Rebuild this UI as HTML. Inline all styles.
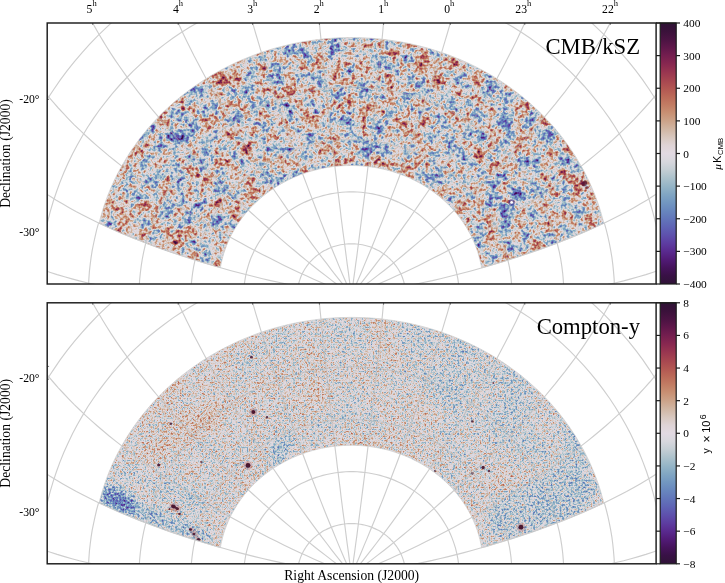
<!DOCTYPE html><html><head><meta charset="utf-8"><style>html,body{margin:0;padding:0;background:#fff;width:725px;height:583px;overflow:hidden}svg{display:block;will-change:transform}text{font-family:"Liberation Serif",serif;fill:#000}.s{font-family:"Liberation Sans",sans-serif}</style></head><body>
<svg width="725" height="583" viewBox="0 0 725 583">
<defs>
<linearGradient id="cb" x1="0" y1="0" x2="0" y2="1"><stop offset="0.0000" stop-color="#2f1436"/><stop offset="0.0312" stop-color="#3a113a"/><stop offset="0.0625" stop-color="#4a1342"/><stop offset="0.0938" stop-color="#5f174a"/><stop offset="0.1250" stop-color="#741e4f"/><stop offset="0.1562" stop-color="#872750"/><stop offset="0.1875" stop-color="#983550"/><stop offset="0.2188" stop-color="#a64550"/><stop offset="0.2500" stop-color="#b25652"/><stop offset="0.2812" stop-color="#bb6958"/><stop offset="0.3125" stop-color="#c27c63"/><stop offset="0.3438" stop-color="#c89073"/><stop offset="0.3750" stop-color="#cca389"/><stop offset="0.4062" stop-color="#d1b6a3"/><stop offset="0.4375" stop-color="#d8c7be"/><stop offset="0.4688" stop-color="#dfd4d6"/><stop offset="0.5000" stop-color="#e2d9e2"/><stop offset="0.5312" stop-color="#d7d7dd"/><stop offset="0.5625" stop-color="#c4ced4"/><stop offset="0.5938" stop-color="#acc2cc"/><stop offset="0.6250" stop-color="#95b5c7"/><stop offset="0.6562" stop-color="#81a6c3"/><stop offset="0.6875" stop-color="#7297c1"/><stop offset="0.7188" stop-color="#6887be"/><stop offset="0.7500" stop-color="#6276ba"/><stop offset="0.7812" stop-color="#5f64b5"/><stop offset="0.8125" stop-color="#5e51ad"/><stop offset="0.8438" stop-color="#5d3da1"/><stop offset="0.8750" stop-color="#592a8f"/><stop offset="0.9062" stop-color="#511b77"/><stop offset="0.9375" stop-color="#45135c"/><stop offset="0.9688" stop-color="#381145"/><stop offset="1.0000" stop-color="#301437"/></linearGradient>
<filter id="fc" x="0" y="0" width="1" height="1" filterUnits="objectBoundingBox" color-interpolation-filters="sRGB">
<feGaussianBlur in="SourceGraphic" stdDeviation="7" result="sg"/>
<feColorMatrix in="sg" type="matrix" values="0 0 0 0 0 0 0 0 0 0 1 0 0 0 0 0 0 0 0 1" result="r3"/>
<feTurbulence type="fractalNoise" baseFrequency="0.27" numOctaves="2" seed="2" result="n1"/>
<feColorMatrix in="n1" type="matrix" values="1 0 0 0 0 0 0 0 0 0 0 0 0 0 0 0 0 0 0 1" result="r1"/>
<feTurbulence type="fractalNoise" baseFrequency="0.07" numOctaves="2" seed="7" result="n2"/>
<feColorMatrix in="n2" type="matrix" values="0 0 0 0 0 1 0 0 0 0 0 0 0 0 0 0 0 0 0 1" result="r2"/>
<feComposite in="r1" in2="r2" operator="arithmetic" k1="0" k2="1" k3="1" k4="0" result="r12"/>
<feComposite in="r12" in2="r3" operator="arithmetic" k1="0" k2="1" k3="1" k4="0"/>
<feColorMatrix type="matrix" values="0.78 0.75 1 0 -0.7670 0.78 0.75 1 0 -0.7670 0.78 0.75 1 0 -0.7670 0 0 0 0 1"/>

<feComponentTransfer><feFuncR type="table" tableValues="0.1874 0.2200 0.2701 0.3195 0.3506 0.3646 0.3699 0.3739 0.3841 0.4073 0.4480 0.5071 0.5830 0.6731 0.7675 0.8441 0.8857 0.8734 0.8489 0.8214 0.8003 0.7829 0.7626 0.7348 0.6981 0.6521 0.5966 0.5305 0.4538 0.3712 0.2913 0.2258 0.1849"/><feFuncG type="table" tableValues="0.0771 0.0659 0.0755 0.1067 0.1660 0.2401 0.3164 0.3905 0.4614 0.5287 0.5924 0.6526 0.7096 0.7627 0.8098 0.8441 0.8500 0.8310 0.7799 0.7139 0.6410 0.5646 0.4872 0.4112 0.3383 0.2697 0.2072 0.1544 0.1162 0.0917 0.0749 0.0674 0.0794"/><feFuncB type="table" tableValues="0.2162 0.2709 0.3606 0.4671 0.5615 0.6298 0.6770 0.7094 0.7309 0.7452 0.7557 0.7659 0.7793 0.8003 0.8325 0.8672 0.8857 0.8375 0.7466 0.6397 0.5373 0.4509 0.3868 0.3450 0.3221 0.3129 0.3126 0.3148 0.3097 0.2895 0.2576 0.2273 0.2131"/></feComponentTransfer>
</filter>
<filter id="fy" x="0" y="0" width="1" height="1" filterUnits="objectBoundingBox" color-interpolation-filters="sRGB">
<feGaussianBlur in="SourceGraphic" stdDeviation="4" result="sg"/>
<feColorMatrix in="sg" type="matrix" values="0 0 0 0 0 0 0 0 0 0 1 0 0 0 0 0 0 0 0 1" result="r3"/>
<feTurbulence type="fractalNoise" baseFrequency="0.45" numOctaves="2" seed="5" result="n1"/>
<feColorMatrix in="n1" type="matrix" values="1 0 0 0 0 0 0 0 0 0 0 0 0 0 0 0 0 0 0 1" result="r1"/>
<feTurbulence type="fractalNoise" baseFrequency="0.03" numOctaves="2" seed="9" result="n2"/>
<feColorMatrix in="n2" type="matrix" values="0 0 0 0 0 1 0 0 0 0 0 0 0 0 0 0 0 0 0 1" result="r2"/>
<feComposite in="r1" in2="r2" operator="arithmetic" k1="0" k2="1" k3="1" k4="0" result="r12"/>
<feComposite in="r12" in2="r3" operator="arithmetic" k1="0" k2="1" k3="1" k4="0"/>
<feColorMatrix type="matrix" values="0.63 0.12 1 0 -0.3770 0.63 0.12 1 0 -0.3770 0.63 0.12 1 0 -0.3770 0 0 0 0 1"/>

<feComponentTransfer><feFuncR type="table" tableValues="0.1874 0.2200 0.2701 0.3195 0.3506 0.3646 0.3699 0.3739 0.3841 0.4073 0.4480 0.5071 0.5830 0.6731 0.7675 0.8441 0.8857 0.8734 0.8489 0.8214 0.8003 0.7829 0.7626 0.7348 0.6981 0.6521 0.5966 0.5305 0.4538 0.3712 0.2913 0.2258 0.1849"/><feFuncG type="table" tableValues="0.0771 0.0659 0.0755 0.1067 0.1660 0.2401 0.3164 0.3905 0.4614 0.5287 0.5924 0.6526 0.7096 0.7627 0.8098 0.8441 0.8500 0.8310 0.7799 0.7139 0.6410 0.5646 0.4872 0.4112 0.3383 0.2697 0.2072 0.1544 0.1162 0.0917 0.0749 0.0674 0.0794"/><feFuncB type="table" tableValues="0.2162 0.2709 0.3606 0.4671 0.5615 0.6298 0.6770 0.7094 0.7309 0.7452 0.7557 0.7659 0.7793 0.8003 0.8325 0.8672 0.8857 0.8375 0.7466 0.6397 0.5373 0.4509 0.3868 0.3450 0.3221 0.3129 0.3126 0.3148 0.3097 0.2895 0.2576 0.2273 0.2131"/></feComponentTransfer>
</filter>
<clipPath id="st"><path d="M99.1,223.2 L100.1,219.2 L101.2,215.3 L102.3,211.4 L103.5,207.6 L104.8,203.7 L106.2,199.9 L107.6,196.0 L109.1,192.2 L110.7,188.5 L112.3,184.7 L114.0,181.0 L115.8,177.3 L117.6,173.7 L119.6,170.0 L121.5,166.4 L123.6,162.9 L125.7,159.3 L127.9,155.8 L130.1,152.3 L132.4,148.9 L134.8,145.5 L137.2,142.1 L139.7,138.8 L142.2,135.5 L144.8,132.3 L147.5,129.1 L150.2,125.9 L153.0,122.8 L155.9,119.7 L158.8,116.7 L161.7,113.7 L164.7,110.8 L167.8,107.9 L170.9,105.1 L174.1,102.3 L177.3,99.5 L180.6,96.8 L183.9,94.2 L187.3,91.6 L190.7,89.1 L194.2,86.6 L197.7,84.2 L201.2,81.8 L204.8,79.5 L208.5,77.2 L212.1,75.0 L215.9,72.9 L219.6,70.8 L223.4,68.8 L227.3,66.8 L231.1,64.9 L235.0,63.0 L239.0,61.2 L242.9,59.5 L246.9,57.9 L251.0,56.3 L255.0,54.7 L259.1,53.2 L263.2,51.8 L267.4,50.5 L271.5,49.2 L275.7,48.0 L279.9,46.9 L284.2,45.8 L288.4,44.8 L292.7,43.8 L297.0,42.9 L301.3,42.1 L305.6,41.4 L309.9,40.7 L314.3,40.1 L318.6,39.5 L323.0,39.0 L327.3,38.6 L331.7,38.3 L336.1,38.0 L340.5,37.8 L344.9,37.7 L349.3,37.6 L353.7,37.6 L358.1,37.7 L362.4,37.8 L366.8,38.0 L371.2,38.3 L375.6,38.6 L380.0,39.0 L384.3,39.5 L388.7,40.1 L393.0,40.7 L397.3,41.4 L401.7,42.1 L406.0,42.9 L410.2,43.8 L414.5,44.8 L418.8,45.8 L423.0,46.9 L427.2,48.0 L431.4,49.2 L435.6,50.5 L439.7,51.8 L443.8,53.3 L447.9,54.7 L452.0,56.3 L456.0,57.9 L460.0,59.5 L464.0,61.3 L467.9,63.0 L471.8,64.9 L475.7,66.8 L479.5,68.8 L483.3,70.8 L487.1,72.9 L490.8,75.0 L494.5,77.2 L498.1,79.5 L501.7,81.8 L505.3,84.2 L508.8,86.6 L512.2,89.1 L515.6,91.6 L519.0,94.2 L522.3,96.8 L525.6,99.5 L528.8,102.3 L532.0,105.1 L535.1,107.9 L538.2,110.8 L541.2,113.7 L544.1,116.7 L547.0,119.8 L549.9,122.8 L552.7,125.9 L555.4,129.1 L558.1,132.3 L560.7,135.6 L563.2,138.8 L565.7,142.2 L568.2,145.5 L570.5,148.9 L572.8,152.4 L575.1,155.8 L577.2,159.3 L579.3,162.9 L581.4,166.5 L583.4,170.1 L585.3,173.7 L587.1,177.4 L588.9,181.0 L590.6,184.8 L592.2,188.5 L593.8,192.3 L595.3,196.1 L596.7,199.9 L598.1,203.7 L599.4,207.6 L600.6,211.5 L601.7,215.4 L602.8,219.3 L603.8,223.2 L603.8,223.2 L599.8,225.1 L595.8,226.9 L591.8,228.7 L587.7,230.5 L583.6,232.3 L579.6,234.0 L575.5,235.7 L571.4,237.4 L567.2,239.1 L563.1,240.7 L558.9,242.4 L554.7,244.0 L550.5,245.5 L546.3,247.1 L542.1,248.6 L537.9,250.1 L533.6,251.6 L529.4,253.1 L525.1,254.5 L520.8,255.9 L516.5,257.4 L512.2,258.7 L507.8,260.1 L503.5,261.5 L499.2,262.8 L494.8,264.1 L490.4,265.4 L486.0,266.7 L481.6,267.9 L481.6,267.9 L481.1,265.1 L480.5,262.3 L479.9,259.5 L479.1,256.7 L478.3,253.9 L477.5,251.1 L476.5,248.4 L475.5,245.7 L474.4,243.0 L473.2,240.3 L472.0,237.6 L470.7,235.0 L469.3,232.4 L467.9,229.9 L466.4,227.3 L464.8,224.9 L463.2,222.4 L461.5,220.0 L459.7,217.6 L457.9,215.2 L456.0,212.9 L454.1,210.7 L452.1,208.4 L450.0,206.3 L447.9,204.1 L445.7,202.0 L443.5,200.0 L441.2,198.0 L438.9,196.1 L436.5,194.2 L434.1,192.4 L431.6,190.6 L429.1,188.8 L426.6,187.2 L424.0,185.6 L421.3,184.0 L418.6,182.5 L415.9,181.1 L413.1,179.7 L410.3,178.3 L407.5,177.1 L404.7,175.9 L401.8,174.8 L398.8,173.7 L395.9,172.7 L392.9,171.7 L389.9,170.8 L386.9,170.0 L383.9,169.3 L380.8,168.6 L377.7,168.0 L374.6,167.4 L371.5,167.0 L368.4,166.5 L365.3,166.2 L362.2,165.9 L359.0,165.7 L355.9,165.6 L352.7,165.5 L349.6,165.5 L346.4,165.6 L343.3,165.7 L340.1,165.9 L337.0,166.2 L333.9,166.5 L330.8,166.9 L327.7,167.4 L324.6,167.9 L321.5,168.5 L318.4,169.2 L315.4,170.0 L312.4,170.8 L309.4,171.6 L306.4,172.6 L303.4,173.6 L300.5,174.6 L297.6,175.8 L294.7,177.0 L291.9,178.2 L289.1,179.5 L286.4,180.9 L283.6,182.4 L280.9,183.9 L278.3,185.4 L275.7,187.0 L273.1,188.7 L270.6,190.4 L268.1,192.2 L265.7,194.0 L263.3,195.9 L261.0,197.8 L258.7,199.8 L256.5,201.9 L254.3,203.9 L252.2,206.1 L250.1,208.2 L248.1,210.5 L246.2,212.7 L244.3,215.0 L242.4,217.4 L240.7,219.7 L239.0,222.2 L237.3,224.6 L235.8,227.1 L234.3,229.6 L232.8,232.2 L231.4,234.8 L230.1,237.4 L228.9,240.0 L227.7,242.7 L226.6,245.4 L225.6,248.1 L224.6,250.9 L223.7,253.6 L222.9,256.4 L222.2,259.2 L221.5,262.0 L220.9,264.8 L220.4,267.7 L220.4,267.7 L216.0,266.4 L211.7,265.2 L207.3,263.9 L203.0,262.6 L198.7,261.2 L194.4,259.9 L190.1,258.5 L185.8,257.1 L181.5,255.7 L177.3,254.3 L173.0,252.9 L168.8,251.4 L164.6,249.9 L160.4,248.4 L156.2,246.9 L152.0,245.4 L147.8,243.8 L143.7,242.2 L139.5,240.6 L135.4,239.0 L131.3,237.3 L127.2,235.6 L123.2,233.9 L119.1,232.2 L115.1,230.5 L111.1,228.7 L107.1,226.9 L103.1,225.0 L99.1,223.2 Z"/></clipPath>
<clipPath id="ft"><rect x="47.2" y="23.0" width="608.9" height="261.0"/></clipPath>
<clipPath id="sb"><path d="M99.1,503.0 L100.1,499.0 L101.2,495.1 L102.3,491.2 L103.5,487.4 L104.8,483.5 L106.2,479.7 L107.6,475.8 L109.1,472.0 L110.7,468.3 L112.3,464.5 L114.0,460.8 L115.8,457.1 L117.6,453.5 L119.6,449.8 L121.5,446.2 L123.6,442.7 L125.7,439.1 L127.9,435.6 L130.1,432.1 L132.4,428.7 L134.8,425.3 L137.2,421.9 L139.7,418.6 L142.2,415.3 L144.8,412.1 L147.5,408.9 L150.2,405.7 L153.0,402.6 L155.9,399.5 L158.8,396.5 L161.7,393.5 L164.7,390.6 L167.8,387.7 L170.9,384.9 L174.1,382.1 L177.3,379.3 L180.6,376.6 L183.9,374.0 L187.3,371.4 L190.7,368.9 L194.2,366.4 L197.7,364.0 L201.2,361.6 L204.8,359.3 L208.5,357.0 L212.1,354.8 L215.9,352.7 L219.6,350.6 L223.4,348.6 L227.3,346.6 L231.1,344.7 L235.0,342.8 L239.0,341.0 L242.9,339.3 L246.9,337.7 L251.0,336.1 L255.0,334.5 L259.1,333.0 L263.2,331.6 L267.4,330.3 L271.5,329.0 L275.7,327.8 L279.9,326.7 L284.2,325.6 L288.4,324.6 L292.7,323.6 L297.0,322.7 L301.3,321.9 L305.6,321.2 L309.9,320.5 L314.3,319.9 L318.6,319.3 L323.0,318.8 L327.3,318.4 L331.7,318.1 L336.1,317.8 L340.5,317.6 L344.9,317.5 L349.3,317.4 L353.7,317.4 L358.1,317.5 L362.4,317.6 L366.8,317.8 L371.2,318.1 L375.6,318.4 L380.0,318.8 L384.3,319.3 L388.7,319.9 L393.0,320.5 L397.3,321.2 L401.7,321.9 L406.0,322.7 L410.2,323.6 L414.5,324.6 L418.8,325.6 L423.0,326.7 L427.2,327.8 L431.4,329.0 L435.6,330.3 L439.7,331.6 L443.8,333.1 L447.9,334.5 L452.0,336.1 L456.0,337.7 L460.0,339.3 L464.0,341.1 L467.9,342.8 L471.8,344.7 L475.7,346.6 L479.5,348.6 L483.3,350.6 L487.1,352.7 L490.8,354.8 L494.5,357.0 L498.1,359.3 L501.7,361.6 L505.3,364.0 L508.8,366.4 L512.2,368.9 L515.6,371.4 L519.0,374.0 L522.3,376.6 L525.6,379.3 L528.8,382.1 L532.0,384.9 L535.1,387.7 L538.2,390.6 L541.2,393.5 L544.1,396.5 L547.0,399.6 L549.9,402.6 L552.7,405.7 L555.4,408.9 L558.1,412.1 L560.7,415.4 L563.2,418.6 L565.7,422.0 L568.2,425.3 L570.5,428.7 L572.8,432.2 L575.1,435.6 L577.2,439.1 L579.3,442.7 L581.4,446.3 L583.4,449.9 L585.3,453.5 L587.1,457.2 L588.9,460.8 L590.6,464.6 L592.2,468.3 L593.8,472.1 L595.3,475.9 L596.7,479.7 L598.1,483.5 L599.4,487.4 L600.6,491.3 L601.7,495.2 L602.8,499.1 L603.8,503.0 L603.8,503.0 L599.8,504.9 L595.8,506.7 L591.8,508.5 L587.7,510.3 L583.6,512.1 L579.6,513.8 L575.5,515.5 L571.4,517.2 L567.2,518.9 L563.1,520.5 L558.9,522.2 L554.7,523.8 L550.5,525.3 L546.3,526.9 L542.1,528.4 L537.9,529.9 L533.6,531.4 L529.4,532.9 L525.1,534.3 L520.8,535.7 L516.5,537.2 L512.2,538.5 L507.8,539.9 L503.5,541.3 L499.2,542.6 L494.8,543.9 L490.4,545.2 L486.0,546.5 L481.6,547.7 L481.6,547.7 L481.1,544.9 L480.5,542.1 L479.9,539.3 L479.1,536.5 L478.3,533.7 L477.5,530.9 L476.5,528.2 L475.5,525.5 L474.4,522.8 L473.2,520.1 L472.0,517.4 L470.7,514.8 L469.3,512.2 L467.9,509.7 L466.4,507.1 L464.8,504.7 L463.2,502.2 L461.5,499.8 L459.7,497.4 L457.9,495.0 L456.0,492.7 L454.1,490.5 L452.1,488.2 L450.0,486.1 L447.9,483.9 L445.7,481.8 L443.5,479.8 L441.2,477.8 L438.9,475.9 L436.5,474.0 L434.1,472.2 L431.6,470.4 L429.1,468.6 L426.6,467.0 L424.0,465.4 L421.3,463.8 L418.6,462.3 L415.9,460.9 L413.1,459.5 L410.3,458.1 L407.5,456.9 L404.7,455.7 L401.8,454.6 L398.8,453.5 L395.9,452.5 L392.9,451.5 L389.9,450.6 L386.9,449.8 L383.9,449.1 L380.8,448.4 L377.7,447.8 L374.6,447.2 L371.5,446.8 L368.4,446.3 L365.3,446.0 L362.2,445.7 L359.0,445.5 L355.9,445.4 L352.7,445.3 L349.6,445.3 L346.4,445.4 L343.3,445.5 L340.1,445.7 L337.0,446.0 L333.9,446.3 L330.8,446.7 L327.7,447.2 L324.6,447.7 L321.5,448.3 L318.4,449.0 L315.4,449.8 L312.4,450.6 L309.4,451.4 L306.4,452.4 L303.4,453.4 L300.5,454.4 L297.6,455.6 L294.7,456.8 L291.9,458.0 L289.1,459.3 L286.4,460.7 L283.6,462.2 L280.9,463.7 L278.3,465.2 L275.7,466.8 L273.1,468.5 L270.6,470.2 L268.1,472.0 L265.7,473.8 L263.3,475.7 L261.0,477.6 L258.7,479.6 L256.5,481.7 L254.3,483.7 L252.2,485.9 L250.1,488.0 L248.1,490.3 L246.2,492.5 L244.3,494.8 L242.4,497.2 L240.7,499.5 L239.0,502.0 L237.3,504.4 L235.8,506.9 L234.3,509.4 L232.8,512.0 L231.4,514.6 L230.1,517.2 L228.9,519.8 L227.7,522.5 L226.6,525.2 L225.6,527.9 L224.6,530.7 L223.7,533.4 L222.9,536.2 L222.2,539.0 L221.5,541.8 L220.9,544.6 L220.4,547.5 L220.4,547.5 L216.0,546.2 L211.7,545.0 L207.3,543.7 L203.0,542.4 L198.7,541.0 L194.4,539.7 L190.1,538.3 L185.8,536.9 L181.5,535.5 L177.3,534.1 L173.0,532.7 L168.8,531.2 L164.6,529.7 L160.4,528.2 L156.2,526.7 L152.0,525.2 L147.8,523.6 L143.7,522.0 L139.5,520.4 L135.4,518.8 L131.3,517.1 L127.2,515.4 L123.2,513.7 L119.1,512.0 L115.1,510.3 L111.1,508.5 L107.1,506.7 L103.1,504.8 L99.1,503.0 Z"/></clipPath>
<clipPath id="fb"><rect x="47.2" y="302.8" width="608.9" height="261.0"/></clipPath>
<filter id="sb" x="-1" y="-1" width="3" height="3"><feGaussianBlur stdDeviation="0.6"/></filter>
<g id="grid"><path d="M351.5,295.0 L358.1,299.7 L364.8,304.2 L371.6,308.7 L378.4,313.1 L385.4,317.3 L392.3,321.5 L399.4,325.6 L406.5,329.6 L413.6,333.5 L420.8,337.4 L428.0,341.1 L435.3,344.8 L442.6,348.4 L449.9,351.9 L457.2,355.4 L464.6,358.7 L472.0,362.0 L479.4,365.2 L486.9,368.4 L494.3,371.4 L501.8,374.4 L509.3,377.3 L516.8,380.1 L524.4,382.8 L531.9,385.4 L539.5,388.0 L547.1,390.4 L554.7,392.7 L562.4,394.9 L570.0,397.0 L577.7,398.9 L585.4,400.7 L593.1,402.4 L600.8,404.0 L608.6,405.3 L616.3,406.6 L624.1,407.6 L632.0,408.5 L639.8,409.1 L647.7,409.6 L655.5,409.8 L663.4,409.8 L671.4,409.6 L679.3,409.1 L687.3,408.4 L695.2,407.3 L703.2,406.0 L711.2,404.3 L719.2,402.4 L727.2,400.1 L735.2,397.4 L743.1,394.3 L751.1,390.9 L759.0,387.0 L766.9,382.7 L774.7,378.0 L782.5,372.8 L790.2,367.1 L797.9,360.9"/><path d="M351.5,295.0 L359.2,297.9 L366.9,300.7 L374.6,303.4 L382.4,306.0 L390.3,308.5 L398.1,310.9 L406.0,313.2 L413.9,315.4 L421.8,317.5 L429.7,319.6 L437.6,321.5 L445.6,323.4 L453.5,325.2 L461.5,326.9 L469.4,328.6 L477.4,330.2 L485.3,331.7 L493.3,333.1 L501.2,334.4 L509.2,335.7 L517.1,336.9 L525.0,338.0 L533.0,339.0 L540.9,340.0 L548.8,340.8 L556.7,341.6 L564.6,342.2 L572.5,342.8 L580.3,343.3 L588.2,343.6 L596.0,343.8 L603.9,343.9 L611.7,343.9 L619.5,343.7 L627.2,343.4 L635.0,343.0 L642.7,342.4 L650.5,341.6 L658.2,340.6 L665.8,339.5 L673.5,338.1 L681.1,336.6 L688.7,334.8 L696.2,332.8 L703.7,330.6 L711.2,328.1 L718.6,325.3 L726.0,322.3 L733.3,319.0 L740.5,315.4 L747.7,311.4 L754.8,307.2 L761.8,302.6 L768.7,297.6 L775.5,292.3 L782.2,286.6 L788.8,280.4 L795.3,273.9 L801.6,267.0"/><path d="M351.5,295.0 L359.7,296.0 L367.9,296.8 L376.2,297.6 L384.4,298.2 L392.6,298.8 L400.8,299.2 L409.0,299.6 L417.3,299.9 L425.5,300.1 L433.6,300.2 L441.8,300.3 L450.0,300.3 L458.1,300.2 L466.3,300.0 L474.4,299.8 L482.5,299.5 L490.5,299.1 L498.6,298.7 L506.6,298.2 L514.6,297.6 L522.6,296.9 L530.6,296.2 L538.5,295.4 L546.4,294.5 L554.3,293.6 L562.1,292.6 L569.9,291.4 L577.7,290.2 L585.4,288.9 L593.2,287.5 L600.8,286.0 L608.4,284.4 L616.0,282.7 L623.6,280.9 L631.0,278.9 L638.5,276.8 L645.9,274.6 L653.2,272.2 L660.5,269.7 L667.7,267.0 L674.9,264.2 L682.0,261.2 L689.0,258.0 L695.9,254.6 L702.8,251.0 L709.6,247.2 L716.3,243.2 L722.9,238.9 L729.4,234.4 L735.7,229.7 L742.0,224.7 L748.2,219.4 L754.2,213.9 L760.1,208.1 L765.8,201.9 L771.4,195.5 L776.8,188.7 L782.0,181.6 L787.0,174.2"/><path d="M351.5,295.0 L359.7,293.9 L367.9,292.8 L376.0,291.5 L384.2,290.2 L392.3,288.8 L400.3,287.3 L408.4,285.7 L416.4,284.1 L424.4,282.3 L432.4,280.6 L440.4,278.7 L448.3,276.8 L456.2,274.8 L464.0,272.8 L471.8,270.7 L479.6,268.5 L487.4,266.3 L495.1,264.0 L502.8,261.7 L510.4,259.3 L518.1,256.8 L525.6,254.3 L533.2,251.8 L540.7,249.1 L548.1,246.4 L555.5,243.7 L562.9,240.8 L570.2,237.9 L577.4,234.9 L584.6,231.9 L591.8,228.7 L598.9,225.5 L605.9,222.2 L612.9,218.8 L619.8,215.3 L626.6,211.7 L633.4,207.9 L640.1,204.1 L646.7,200.2 L653.2,196.1 L659.7,191.9 L666.0,187.5 L672.3,183.0 L678.4,178.4 L684.5,173.6 L690.5,168.7 L696.3,163.5 L702.0,158.3 L707.6,152.8 L713.1,147.1 L718.4,141.2 L723.5,135.2 L728.6,128.9 L733.4,122.4 L738.1,115.6 L742.6,108.6 L746.9,101.4 L751.0,94.0 L754.9,86.3"/><path d="M351.5,295.0 L359.1,292.0 L366.7,288.9 L374.3,285.7 L381.8,282.5 L389.3,279.2 L396.7,275.8 L404.1,272.4 L411.5,268.9 L418.8,265.4 L426.1,261.8 L433.3,258.1 L440.5,254.4 L447.7,250.7 L454.8,246.9 L461.9,243.0 L469.0,239.2 L476.0,235.2 L483.0,231.2 L489.9,227.2 L496.8,223.1 L503.7,219.0 L510.5,214.8 L517.2,210.6 L523.9,206.4 L530.6,202.1 L537.2,197.7 L543.8,193.3 L550.3,188.8 L556.7,184.3 L563.1,179.7 L569.4,175.1 L575.7,170.4 L581.9,165.6 L588.0,160.8 L594.0,155.9 L600.0,150.9 L605.9,145.9 L611.7,140.8 L617.4,135.5 L623.1,130.2 L628.6,124.8 L634.1,119.3 L639.4,113.7 L644.6,108.0 L649.8,102.2 L654.8,96.3 L659.7,90.3 L664.4,84.1 L669.0,77.8 L673.5,71.4 L677.9,64.8 L682.1,58.1 L686.1,51.3 L689.9,44.3 L693.6,37.1 L697.1,29.8 L700.4,22.3 L703.6,14.6 L706.5,6.8"/><path d="M351.5,295.0 L358.0,290.3 L364.5,285.4 L371.0,280.6 L377.4,275.6 L383.8,270.7 L390.1,265.7 L396.4,260.6 L402.7,255.5 L408.9,250.3 L415.0,245.1 L421.2,239.9 L427.3,234.6 L433.3,229.3 L439.3,224.0 L445.3,218.6 L451.2,213.2 L457.1,207.8 L463.0,202.3 L468.8,196.8 L474.6,191.2 L480.3,185.7 L486.0,180.1 L491.6,174.4 L497.2,168.8 L502.8,163.1 L508.3,157.3 L513.7,151.6 L519.1,145.8 L524.4,139.9 L529.7,134.0 L535.0,128.1 L540.1,122.2 L545.2,116.2 L550.2,110.1 L555.2,104.1 L560.1,97.9 L564.9,91.8 L569.6,85.5 L574.3,79.3 L578.9,72.9 L583.4,66.5 L587.7,60.1 L592.0,53.6 L596.2,47.0 L600.3,40.4 L604.3,33.7 L608.1,26.9 L611.9,20.0 L615.5,13.1 L619.0,6.1 L622.3,-1.0 L625.6,-8.2 L628.6,-15.5 L631.6,-22.8 L634.3,-30.3 L636.9,-37.8 L639.4,-45.4 L641.6,-53.2 L643.7,-61.0"/><path d="M351.5,295.0 L356.5,288.8 L361.5,282.6 L366.4,276.4 L371.3,270.1 L376.2,263.7 L381.0,257.4 L385.8,251.0 L390.6,244.6 L395.3,238.1 L400.0,231.6 L404.6,225.1 L409.3,218.6 L413.8,212.0 L418.4,205.4 L422.9,198.8 L427.4,192.2 L431.9,185.6 L436.3,178.9 L440.7,172.2 L445.0,165.5 L449.3,158.8 L453.6,152.0 L457.9,145.2 L462.1,138.5 L466.2,131.6 L470.4,124.8 L474.4,118.0 L478.5,111.1 L482.5,104.2 L486.4,97.3 L490.3,90.4 L494.2,83.5 L498.0,76.5 L501.7,69.5 L505.4,62.5 L509.0,55.5 L512.6,48.4 L516.1,41.4 L519.5,34.3 L522.9,27.1 L526.2,20.0 L529.4,12.8 L532.5,5.6 L535.6,-1.6 L538.5,-8.9 L541.4,-16.2 L544.2,-23.6 L546.9,-30.9 L549.5,-38.3 L552.0,-45.8 L554.4,-53.2 L556.6,-60.7 L558.8,-68.3 L560.8,-75.9 L562.8,-83.5 L564.5,-91.2 L566.2,-98.9 L567.7,-106.6 L569.1,-114.4"/><path d="M351.5,295.0 L354.6,287.8 L357.8,280.6 L360.9,273.4 L363.9,266.1 L367.0,258.8 L370.0,251.5 L373.0,244.2 L376.0,236.9 L378.9,229.5 L381.9,222.1 L384.8,214.7 L387.6,207.3 L390.5,199.9 L393.3,192.4 L396.2,184.9 L399.0,177.5 L401.7,170.0 L404.5,162.5 L407.2,155.0 L409.9,147.4 L412.6,139.9 L415.3,132.3 L417.9,124.8 L420.5,117.2 L423.1,109.6 L425.6,102.1 L428.2,94.5 L430.7,86.9 L433.1,79.3 L435.6,71.7 L438.0,64.0 L440.4,56.4 L442.7,48.8 L445.0,41.1 L447.3,33.5 L449.5,25.9 L451.7,18.2 L453.8,10.5 L455.9,2.9 L458.0,-4.8 L460.0,-12.5 L462.0,-20.1 L463.9,-27.8 L465.7,-35.5 L467.5,-43.2 L469.3,-50.9 L471.0,-58.6 L472.6,-66.3 L474.2,-74.0 L475.7,-81.7 L477.1,-89.4 L478.4,-97.2 L479.7,-104.9 L480.9,-112.6 L482.0,-120.3 L483.1,-128.1 L484.0,-135.8 L484.9,-143.6 L485.7,-151.3"/><path d="M351.5,295.0 L352.6,287.3 L353.6,279.6 L354.7,271.8 L355.7,264.1 L356.8,256.3 L357.8,248.5 L358.8,240.7 L359.8,232.9 L360.8,225.0 L361.8,217.2 L362.8,209.3 L363.8,201.5 L364.8,193.6 L365.7,185.7 L366.7,177.8 L367.6,169.9 L368.6,161.9 L369.5,154.0 L370.4,146.1 L371.4,138.1 L372.3,130.2 L373.2,122.2 L374.1,114.3 L374.9,106.3 L375.8,98.3 L376.7,90.3 L377.5,82.4 L378.4,74.4 L379.2,66.4 L380.0,58.5 L380.9,50.5 L381.7,42.5 L382.5,34.5 L383.2,26.6 L384.0,18.6 L384.8,10.6 L385.5,2.7 L386.2,-5.3 L386.9,-13.2 L387.6,-21.2 L388.3,-29.1 L389.0,-37.0 L389.6,-45.0 L390.2,-52.9 L390.8,-60.8 L391.4,-68.7 L392.0,-76.5 L392.5,-84.4 L393.0,-92.3 L393.5,-100.1 L394.0,-108.0 L394.4,-115.8 L394.9,-123.6 L395.3,-131.4 L395.6,-139.2 L396.0,-146.9 L396.3,-154.7 L396.6,-162.4 L396.8,-170.1"/><path d="M351.5,295.0 L350.4,287.3 L349.3,279.6 L348.3,271.8 L347.2,264.1 L346.2,256.3 L345.2,248.5 L344.2,240.7 L343.1,232.9 L342.1,225.0 L341.1,217.2 L340.2,209.3 L339.2,201.5 L338.2,193.6 L337.2,185.7 L336.3,177.8 L335.3,169.9 L334.4,161.9 L333.5,154.0 L332.5,146.1 L331.6,138.1 L330.7,130.2 L329.8,122.2 L328.9,114.3 L328.0,106.3 L327.1,98.3 L326.3,90.3 L325.4,82.4 L324.6,74.4 L323.7,66.4 L322.9,58.5 L322.1,50.5 L321.3,42.5 L320.5,34.5 L319.7,26.6 L319.0,18.6 L318.2,10.6 L317.5,2.7 L316.8,-5.3 L316.0,-13.2 L315.4,-21.2 L314.7,-29.1 L314.0,-37.0 L313.4,-45.0 L312.8,-52.9 L312.1,-60.8 L311.6,-68.7 L311.0,-76.5 L310.5,-84.4 L309.9,-92.3 L309.4,-100.1 L309.0,-108.0 L308.5,-115.8 L308.1,-123.6 L307.7,-131.4 L307.3,-139.2 L307.0,-146.9 L306.7,-154.7 L306.4,-162.4 L306.1,-170.1"/><path d="M351.5,295.0 L348.3,287.8 L345.2,280.6 L342.1,273.4 L339.0,266.1 L336.0,258.8 L333.0,251.5 L330.0,244.2 L327.0,236.9 L324.0,229.5 L321.1,222.1 L318.2,214.7 L315.3,207.3 L312.5,199.9 L309.6,192.4 L306.8,184.9 L304.0,177.5 L301.2,170.0 L298.5,162.5 L295.8,155.0 L293.0,147.4 L290.4,139.9 L287.7,132.3 L285.1,124.8 L282.5,117.2 L279.9,109.6 L277.3,102.1 L274.8,94.5 L272.3,86.9 L269.8,79.3 L267.4,71.7 L265.0,64.0 L262.6,56.4 L260.3,48.8 L258.0,41.1 L255.7,33.5 L253.5,25.9 L251.3,18.2 L249.1,10.5 L247.0,2.9 L245.0,-4.8 L242.9,-12.5 L241.0,-20.1 L239.1,-27.8 L237.2,-35.5 L235.4,-43.2 L233.7,-50.9 L232.0,-58.6 L230.4,-66.3 L228.8,-74.0 L227.3,-81.7 L225.9,-89.4 L224.5,-97.2 L223.3,-104.9 L222.1,-112.6 L220.9,-120.3 L219.9,-128.1 L219.0,-135.8 L218.1,-143.6 L217.3,-151.3"/><path d="M351.5,295.0 L346.5,288.8 L341.5,282.6 L336.5,276.4 L331.6,270.1 L326.8,263.7 L321.9,257.4 L317.2,251.0 L312.4,244.6 L307.7,238.1 L303.0,231.6 L298.3,225.1 L293.7,218.6 L289.1,212.0 L284.6,205.4 L280.1,198.8 L275.6,192.2 L271.1,185.6 L266.7,178.9 L262.3,172.2 L257.9,165.5 L253.6,158.8 L249.4,152.0 L245.1,145.2 L240.9,138.5 L236.7,131.6 L232.6,124.8 L228.5,118.0 L224.5,111.1 L220.5,104.2 L216.5,97.3 L212.6,90.4 L208.8,83.5 L205.0,76.5 L201.3,69.5 L197.6,62.5 L193.9,55.5 L190.4,48.4 L186.9,41.4 L183.4,34.3 L180.1,27.1 L176.8,20.0 L173.6,12.8 L170.4,5.6 L167.4,-1.6 L164.4,-8.9 L161.5,-16.2 L158.8,-23.6 L156.1,-30.9 L153.5,-38.3 L151.0,-45.8 L148.6,-53.2 L146.3,-60.7 L144.2,-68.3 L142.1,-75.9 L140.2,-83.5 L138.4,-91.2 L136.8,-98.9 L135.3,-106.6 L133.9,-114.4"/><path d="M351.5,295.0 L344.9,290.3 L338.4,285.4 L332.0,280.6 L325.6,275.6 L319.2,270.7 L312.9,265.7 L306.6,260.6 L300.3,255.5 L294.1,250.3 L287.9,245.1 L281.8,239.9 L275.7,234.6 L269.7,229.3 L263.6,224.0 L257.7,218.6 L251.7,213.2 L245.8,207.8 L240.0,202.3 L234.2,196.8 L228.4,191.2 L222.7,185.7 L217.0,180.1 L211.3,174.4 L205.7,168.8 L200.2,163.1 L194.7,157.3 L189.3,151.6 L183.9,145.8 L178.5,139.9 L173.2,134.0 L168.0,128.1 L162.9,122.2 L157.8,116.2 L152.7,110.1 L147.8,104.1 L142.9,97.9 L138.1,91.8 L133.3,85.5 L128.7,79.3 L124.1,72.9 L119.6,66.5 L115.2,60.1 L110.9,53.6 L106.7,47.0 L102.7,40.4 L98.7,33.7 L94.8,26.9 L91.1,20.0 L87.5,13.1 L84.0,6.1 L80.6,-1.0 L77.4,-8.2 L74.3,-15.5 L71.4,-22.8 L68.6,-30.3 L66.0,-37.8 L63.6,-45.4 L61.4,-53.2 L59.3,-61.0"/><path d="M351.5,295.0 L343.8,292.0 L336.3,288.9 L328.7,285.7 L321.2,282.5 L313.7,279.2 L306.3,275.8 L298.9,272.4 L291.5,268.9 L284.2,265.4 L276.9,261.8 L269.6,258.1 L262.4,254.4 L255.3,250.7 L248.1,246.9 L241.0,243.0 L234.0,239.2 L226.9,235.2 L220.0,231.2 L213.0,227.2 L206.1,223.1 L199.3,219.0 L192.5,214.8 L185.7,210.6 L179.0,206.4 L172.4,202.1 L165.8,197.7 L159.2,193.3 L152.7,188.8 L146.3,184.3 L139.9,179.7 L133.6,175.1 L127.3,170.4 L121.1,165.6 L115.0,160.8 L108.9,155.9 L103.0,150.9 L97.1,145.9 L91.3,140.8 L85.5,135.5 L79.9,130.2 L74.3,124.8 L68.9,119.3 L63.6,113.7 L58.3,108.0 L53.2,102.2 L48.2,96.3 L43.3,90.3 L38.5,84.1 L33.9,77.8 L29.4,71.4 L25.1,64.8 L20.9,58.1 L16.9,51.3 L13.0,44.3 L9.3,37.1 L5.8,29.8 L2.5,22.3 L-0.6,14.6 L-3.5,6.8"/><path d="M351.5,295.0 L343.3,293.9 L335.1,292.8 L326.9,291.5 L318.8,290.2 L310.7,288.8 L302.6,287.3 L294.6,285.7 L286.5,284.1 L278.5,282.3 L270.6,280.6 L262.6,278.7 L254.7,276.8 L246.8,274.8 L239.0,272.8 L231.1,270.7 L223.3,268.5 L215.6,266.3 L207.9,264.0 L200.2,261.7 L192.5,259.3 L184.9,256.8 L177.3,254.3 L169.8,251.8 L162.3,249.1 L154.9,246.4 L147.5,243.7 L140.1,240.8 L132.8,237.9 L125.5,234.9 L118.3,231.9 L111.2,228.7 L104.1,225.5 L97.1,222.2 L90.1,218.8 L83.2,215.3 L76.4,211.7 L69.6,207.9 L62.9,204.1 L56.3,200.2 L49.7,196.1 L43.3,191.9 L36.9,187.5 L30.7,183.0 L24.5,178.4 L18.5,173.6 L12.5,168.7 L6.7,163.5 L1.0,158.3 L-4.6,152.8 L-10.1,147.1 L-15.4,141.2 L-20.6,135.2 L-25.6,128.9 L-30.4,122.4 L-35.1,115.6 L-39.6,108.6 L-43.9,101.4 L-48.0,94.0 L-51.9,86.3"/><path d="M351.5,295.0 L343.3,296.0 L335.0,296.8 L326.8,297.6 L318.6,298.2 L310.4,298.8 L302.1,299.2 L293.9,299.6 L285.7,299.9 L277.5,300.1 L269.3,300.2 L261.1,300.3 L253.0,300.3 L244.8,300.2 L236.7,300.0 L228.6,299.8 L220.5,299.5 L212.4,299.1 L204.4,298.7 L196.3,298.2 L188.3,297.6 L180.3,296.9 L172.4,296.2 L164.5,295.4 L156.6,294.5 L148.7,293.6 L140.8,292.6 L133.0,291.4 L125.3,290.2 L117.5,288.9 L109.8,287.5 L102.2,286.0 L94.5,284.4 L86.9,282.7 L79.4,280.9 L71.9,278.9 L64.5,276.8 L57.1,274.6 L49.7,272.2 L42.5,269.7 L35.2,267.0 L28.1,264.2 L21.0,261.2 L14.0,258.0 L7.0,254.6 L0.2,251.0 L-6.6,247.2 L-13.3,243.2 L-19.9,238.9 L-26.4,234.4 L-32.8,229.7 L-39.1,224.7 L-45.2,219.4 L-51.2,213.9 L-57.1,208.1 L-62.8,201.9 L-68.4,195.5 L-73.8,188.7 L-79.0,181.6 L-84.1,174.2"/><path d="M351.5,295.0 L343.8,297.9 L336.1,300.7 L328.3,303.4 L320.5,306.0 L312.7,308.5 L304.9,310.9 L297.0,313.2 L289.1,315.4 L281.2,317.5 L273.3,319.6 L265.4,321.5 L257.4,323.4 L249.5,325.2 L241.5,326.9 L233.6,328.6 L225.6,330.2 L217.7,331.7 L209.7,333.1 L201.7,334.4 L193.8,335.7 L185.9,336.9 L177.9,338.0 L170.0,339.0 L162.1,340.0 L154.2,340.8 L146.3,341.6 L138.4,342.2 L130.5,342.8 L122.6,343.3 L114.8,343.6 L106.9,343.8 L99.1,343.9 L91.3,343.9 L83.5,343.7 L75.7,343.4 L68.0,343.0 L60.2,342.4 L52.5,341.6 L44.8,340.6 L37.1,339.5 L29.5,338.1 L21.9,336.6 L14.3,334.8 L6.7,332.8 L-0.8,330.6 L-8.2,328.1 L-15.6,325.3 L-23.0,322.3 L-30.3,319.0 L-37.6,315.4 L-44.7,311.4 L-51.8,307.2 L-58.8,302.6 L-65.8,297.6 L-72.6,292.3 L-79.3,286.6 L-85.9,280.4 L-92.3,273.9 L-98.6,267.0"/><path d="M351.5,295.0 L344.9,299.7 L338.2,304.2 L331.4,308.7 L324.5,313.1 L317.6,317.3 L310.6,321.5 L303.6,325.6 L296.5,329.6 L289.4,333.5 L282.2,337.4 L275.0,341.1 L267.7,344.8 L260.4,348.4 L253.1,351.9 L245.7,355.4 L238.4,358.7 L231.0,362.0 L223.5,365.2 L216.1,368.4 L208.6,371.4 L201.2,374.4 L193.7,377.3 L186.1,380.1 L178.6,382.8 L171.0,385.4 L163.5,388.0 L155.9,390.4 L148.2,392.7 L140.6,394.9 L133.0,397.0 L125.3,398.9 L117.6,400.7 L109.9,402.4 L102.2,404.0 L94.4,405.3 L86.6,406.6 L78.8,407.6 L71.0,408.5 L63.2,409.1 L55.3,409.6 L47.4,409.8 L39.5,409.8 L31.6,409.6 L23.7,409.1 L15.7,408.4 L7.7,407.3 L-0.3,406.0 L-8.2,404.3 L-16.2,402.4 L-24.2,400.1 L-32.2,397.4 L-40.2,394.3 L-48.1,390.9 L-56.1,387.0 L-63.9,382.7 L-71.8,378.0 L-79.6,372.8 L-87.3,367.1 L-94.9,360.9"/><path d="M381.7,337.5 L383.3,336.5 L384.9,335.3 L386.4,334.1 L387.9,332.9 L389.4,331.6 L390.7,330.3 L392.1,328.9 L393.4,327.4 L394.6,326.0 L395.8,324.5 L396.9,322.9 L397.9,321.3 L398.9,319.7 L399.8,318.0 L400.7,316.3 L401.5,314.6 L402.2,312.8 L402.9,311.1 L403.5,309.3 L404.0,307.4 L404.4,305.6 L404.8,303.8 L405.1,301.9 L405.3,300.0 L405.5,298.2 L405.6,296.3 L405.6,294.4 L405.5,292.5 L405.4,290.7 L405.2,288.8 L404.9,286.9 L404.6,285.1 L404.1,283.2 L403.7,281.4 L403.1,279.6 L402.5,277.8 L401.8,276.1 L401.0,274.3 L400.2,272.6 L399.3,271.0 L398.3,269.3 L397.3,267.7 L396.2,266.1 L395.0,264.6 L393.8,263.1 L392.6,261.7 L391.2,260.3 L389.9,258.9 L388.4,257.6 L387.0,256.3 L385.4,255.1 L383.9,254.0 L382.3,252.9 L380.6,251.8 L378.9,250.8 L377.2,249.9 L375.4,249.1 L373.6,248.3 L371.8,247.5 L370.0,246.8 L368.1,246.2 L366.2,245.7 L364.3,245.2 L362.3,244.8 L360.4,244.5 L358.4,244.2 L356.4,244.0 L354.5,243.8 L352.5,243.8 L350.5,243.8 L348.5,243.8 L346.5,244.0 L344.6,244.2 L342.6,244.5 L340.6,244.8 L338.7,245.2 L336.8,245.7 L334.9,246.2 L333.0,246.8 L331.2,247.5 L329.3,248.3 L327.5,249.1 L325.8,249.9 L324.0,250.8 L322.3,251.8 L320.7,252.9 L319.1,254.0 L317.5,255.1 L316.0,256.3 L314.5,257.6 L313.1,258.9 L311.7,260.3 L310.4,261.7 L309.1,263.1 L307.9,264.6 L306.8,266.1 L305.7,267.7 L304.7,269.3 L303.7,271.0 L302.8,272.6 L302.0,274.3 L301.2,276.1 L300.5,277.8 L299.9,279.6 L299.3,281.4 L298.8,283.2 L298.4,285.1 L298.1,286.9 L297.8,288.8 L297.6,290.7 L297.4,292.5 L297.4,294.4 L297.4,296.3 L297.5,298.2 L297.6,300.0 L297.9,301.9 L298.2,303.8 L298.6,305.6 L299.0,307.4 L299.5,309.3 L300.1,311.1 L300.8,312.8 L301.5,314.6 L302.3,316.3 L303.1,318.0 L304.1,319.7 L305.0,321.3 L306.1,322.9 L307.2,324.5 L308.4,326.0 L309.6,327.4 L310.9,328.9 L312.2,330.3 L313.6,331.6 L315.1,332.9 L316.5,334.1 L318.1,335.3 L319.7,336.5 L321.3,337.5"/><path d="M416.5,377.2 L419.5,374.9 L422.5,372.5 L425.3,370.0 L428.1,367.5 L430.8,364.8 L433.3,362.0 L435.8,359.2 L438.1,356.2 L440.4,353.2 L442.5,350.1 L444.5,347.0 L446.4,343.7 L448.2,340.4 L449.8,337.1 L451.3,333.7 L452.7,330.2 L453.9,326.7 L455.1,323.2 L456.1,319.6 L456.9,316.0 L457.6,312.4 L458.2,308.7 L458.7,305.0 L459.0,301.4 L459.1,297.7 L459.2,294.0 L459.1,290.3 L458.8,286.6 L458.4,282.9 L457.9,279.2 L457.2,275.6 L456.4,272.0 L455.5,268.4 L454.4,264.8 L453.2,261.3 L451.9,257.8 L450.5,254.4 L448.9,251.0 L447.2,247.7 L445.3,244.5 L443.4,241.3 L441.3,238.1 L439.1,235.1 L436.8,232.1 L434.4,229.2 L431.9,226.4 L429.3,223.7 L426.5,221.1 L423.7,218.6 L420.8,216.1 L417.8,213.8 L414.7,211.6 L411.6,209.4 L408.3,207.4 L405.0,205.5 L401.6,203.8 L398.2,202.1 L394.7,200.6 L391.1,199.1 L387.5,197.8 L383.8,196.7 L380.1,195.6 L376.4,194.7 L372.6,193.9 L368.8,193.2 L365.0,192.7 L361.1,192.3 L357.3,192.0 L353.4,191.9 L349.6,191.9 L345.7,192.0 L341.8,192.3 L338.0,192.7 L334.2,193.2 L330.4,193.9 L326.6,194.7 L322.9,195.6 L319.2,196.7 L315.5,197.8 L311.9,199.1 L308.3,200.6 L304.8,202.1 L301.3,203.8 L298.0,205.5 L294.6,207.4 L291.4,209.4 L288.2,211.6 L285.1,213.8 L282.1,216.1 L279.2,218.6 L276.4,221.1 L273.7,223.7 L271.1,226.4 L268.6,229.2 L266.1,232.1 L263.8,235.1 L261.7,238.1 L259.6,241.3 L257.6,244.5 L255.8,247.7 L254.1,251.0 L252.5,254.4 L251.0,257.8 L249.7,261.3 L248.5,264.8 L247.5,268.4 L246.5,272.0 L245.7,275.6 L245.1,279.2 L244.5,282.9 L244.2,286.6 L243.9,290.3 L243.8,294.0 L243.8,297.7 L244.0,301.4 L244.3,305.0 L244.8,308.7 L245.3,312.4 L246.1,316.0 L246.9,319.6 L247.9,323.2 L249.0,326.7 L250.3,330.2 L251.7,333.7 L253.2,337.1 L254.8,340.4 L256.6,343.7 L258.5,347.0 L260.5,350.1 L262.6,353.2 L264.8,356.2 L267.2,359.2 L269.6,362.0 L272.2,364.8 L274.9,367.5 L277.6,370.0 L280.5,372.5 L283.4,374.9 L286.5,377.2"/><path d="M454.6,414.1 L458.9,410.5 L463.0,406.8 L467.0,402.9 L470.8,398.9 L474.5,394.8 L478.1,390.6 L481.5,386.2 L484.7,381.7 L487.8,377.1 L490.7,372.4 L493.4,367.7 L495.9,362.8 L498.3,357.8 L500.5,352.8 L502.5,347.7 L504.3,342.5 L505.9,337.3 L507.4,332.0 L508.6,326.7 L509.7,321.3 L510.5,315.9 L511.2,310.5 L511.7,305.0 L511.9,299.6 L512.0,294.1 L511.9,288.6 L511.5,283.2 L511.0,277.7 L510.3,272.3 L509.4,266.9 L508.2,261.6 L506.9,256.3 L505.4,251.0 L503.7,245.8 L501.8,240.6 L499.8,235.5 L497.5,230.5 L495.1,225.6 L492.5,220.7 L489.7,216.0 L486.7,211.3 L483.6,206.8 L480.3,202.3 L476.9,198.0 L473.3,193.8 L469.5,189.7 L465.6,185.8 L461.6,182.0 L457.4,178.3 L453.1,174.7 L448.7,171.4 L444.1,168.1 L439.5,165.0 L434.7,162.1 L429.8,159.4 L424.9,156.8 L419.8,154.4 L414.6,152.1 L409.4,150.1 L404.1,148.2 L398.8,146.5 L393.3,145.0 L387.9,143.7 L382.3,142.5 L376.8,141.6 L371.2,140.8 L365.6,140.2 L359.9,139.8 L354.3,139.6 L348.7,139.6 L343.0,139.8 L337.4,140.2 L331.8,140.8 L326.2,141.6 L320.6,142.5 L315.1,143.7 L309.6,145.0 L304.2,146.5 L298.9,148.2 L293.6,150.1 L288.3,152.1 L283.2,154.4 L278.1,156.8 L273.1,159.4 L268.3,162.1 L263.5,165.0 L258.8,168.1 L254.3,171.4 L249.8,174.7 L245.5,178.3 L241.4,182.0 L237.3,185.8 L233.4,189.7 L229.7,193.8 L226.1,198.0 L222.6,202.3 L219.3,206.8 L216.2,211.3 L213.3,216.0 L210.5,220.7 L207.9,225.6 L205.4,230.5 L203.2,235.5 L201.1,240.6 L199.2,245.8 L197.5,251.0 L196.0,256.3 L194.7,261.6 L193.6,266.9 L192.7,272.3 L192.0,277.7 L191.4,283.2 L191.1,288.6 L191.0,294.1 L191.0,299.6 L191.3,305.0 L191.8,310.5 L192.4,315.9 L193.3,321.3 L194.3,326.7 L195.6,332.0 L197.0,337.3 L198.6,342.5 L200.5,347.7 L202.5,352.8 L204.7,357.8 L207.0,362.8 L209.6,367.7 L212.3,372.4 L215.2,377.1 L218.3,381.7 L221.5,386.2 L224.9,390.6 L228.4,394.8 L232.1,398.9 L236.0,402.9 L240.0,406.8 L244.1,410.5 L248.4,414.1"/><path d="M495.5,447.9 L500.8,442.9 L505.9,437.8 L510.8,432.5 L515.6,427.0 L520.1,421.4 L524.5,415.6 L528.6,409.7 L532.6,403.7 L536.3,397.5 L539.8,391.2 L543.1,384.8 L546.1,378.3 L548.9,371.7 L551.5,365.0 L553.8,358.2 L556.0,351.3 L557.8,344.4 L559.4,337.4 L560.8,330.3 L561.9,323.2 L562.8,316.1 L563.4,309.0 L563.8,301.8 L563.9,294.6 L563.7,287.5 L563.3,280.3 L562.7,273.2 L561.8,266.1 L560.7,259.0 L559.3,251.9 L557.6,245.0 L555.7,238.0 L553.6,231.2 L551.2,224.4 L548.6,217.7 L545.8,211.1 L542.7,204.6 L539.4,198.2 L535.9,191.9 L532.2,185.7 L528.2,179.7 L524.0,173.8 L519.7,168.0 L515.1,162.4 L510.3,157.0 L505.4,151.7 L500.2,146.6 L494.9,141.7 L489.4,136.9 L483.8,132.4 L478.0,128.0 L472.0,123.8 L465.9,119.8 L459.7,116.1 L453.3,112.5 L446.8,109.2 L440.2,106.1 L433.5,103.2 L426.7,100.6 L419.8,98.1 L412.9,96.0 L405.8,94.0 L398.7,92.3 L391.5,90.8 L384.3,89.6 L377.1,88.6 L369.8,87.9 L362.5,87.4 L355.1,87.1 L347.8,87.1 L340.5,87.4 L333.2,87.9 L325.9,88.6 L318.7,89.6 L311.4,90.8 L304.3,92.3 L297.2,94.0 L290.1,96.0 L283.1,98.1 L276.2,100.6 L269.4,103.2 L262.7,106.1 L256.1,109.2 L249.7,112.5 L243.3,116.1 L237.0,119.8 L230.9,123.8 L225.0,128.0 L219.2,132.4 L213.5,136.9 L208.0,141.7 L202.7,146.6 L197.6,151.7 L192.6,157.0 L187.9,162.4 L183.3,168.0 L178.9,173.8 L174.8,179.7 L170.8,185.7 L167.1,191.9 L163.5,198.2 L160.2,204.6 L157.2,211.1 L154.3,217.7 L151.7,224.4 L149.3,231.2 L147.2,238.0 L145.3,245.0 L143.7,251.9 L142.3,259.0 L141.2,266.1 L140.3,273.2 L139.6,280.3 L139.2,287.5 L139.1,294.6 L139.2,301.8 L139.6,309.0 L140.2,316.1 L141.1,323.2 L142.2,330.3 L143.5,337.4 L145.2,344.4 L147.0,351.3 L149.1,358.2 L151.5,365.0 L154.0,371.7 L156.9,378.3 L159.9,384.8 L163.2,391.2 L166.7,397.5 L170.4,403.7 L174.3,409.7 L178.5,415.6 L182.8,421.4 L187.4,427.0 L192.1,432.5 L197.1,437.8 L202.2,442.9 L207.5,447.9"/><path d="M98.6,222.9 L96.7,229.7 L95.1,236.6 L93.6,243.5 L92.2,250.4 L91.1,257.4 L90.2,264.4 L89.4,271.4 L88.9,278.4 L88.5,285.5 L88.4,292.5 L88.4,299.6 L88.6,306.6 L89.0,313.6 L89.6,320.7 L90.4,327.7 L91.4,334.7 L92.6,341.6 L94.0,348.5 L95.5,355.4 L97.3,362.3 L99.2,369.0 L101.3,375.8 L103.6,382.4 L106.1,389.1 L108.8,395.6 L111.6,402.1 L114.6,408.5 L117.8,414.8 L121.2,421.0 L124.7,427.1 L128.4,433.1 L132.2,439.1 L136.3,444.9 L140.4,450.6 L144.8,456.2 L149.3,461.7 L153.9,467.0 L158.7,472.3 L163.6,477.4"/><path d="M539.4,477.4 L544.3,472.3 L549.1,467.0 L553.7,461.7 L558.2,456.2 L562.5,450.6 L566.7,444.9 L570.7,439.1 L574.6,433.1 L578.3,427.1 L581.8,421.0 L585.2,414.8 L588.3,408.5 L591.4,402.1 L594.2,395.6 L596.9,389.1 L599.3,382.4 L601.6,375.8 L603.8,369.0 L605.7,362.3 L607.4,355.4 L609.0,348.5 L610.4,341.6 L611.5,334.7 L612.5,327.7 L613.3,320.7 L613.9,313.6 L614.4,306.6 L614.6,299.6 L614.6,292.5 L614.4,285.5 L614.1,278.4 L613.5,271.4 L612.8,264.4 L611.9,257.4 L610.7,250.4 L609.4,243.5 L607.9,236.6 L606.2,229.7 L604.3,222.9"/><path d="M587.0,500.7 L593.7,492.8 L600.0,484.7 L606.1,476.4 L612.0,467.9 L617.5,459.2 L622.8,450.4 L627.7,441.3 L632.4,432.2 L636.7,422.8 L640.8,413.4 L644.5,403.8 L647.9,394.0 L651.0,384.2 L653.8,374.3 L656.2,364.3 L658.4,354.2 L660.1,344.1 L661.6,333.9 L662.7,323.6 L663.5,313.4 L663.9,303.1 L664.0,292.8 L663.8,282.5 L663.2,272.2 L662.3,261.9 L661.0,251.7 L659.4,241.5 L657.5,231.4 L655.2,221.4 L652.6,211.4 L649.7,201.5 L646.5,191.7 L642.9,182.1 L639.1,172.5 L634.9,163.1 L630.4,153.8 L625.6,144.7 L620.5,135.8 L615.1,127.0 L609.5,118.4 L603.5,110.0 L597.3,101.8 L590.8,93.8 L584.1,86.0 L577.1,78.5 L569.8,71.1 L562.4,64.1 L554.7,57.2 L546.7,50.7 L538.6,44.4 L530.3,38.3 L521.7,32.6 L513.0,27.1 L504.1,21.9 L495.1,17.1 L485.8,12.5 L476.5,8.2 L467.0,4.2 L457.4,0.6 L447.6,-2.7 L437.8,-5.7 L427.9,-8.4 L417.8,-10.8 L407.8,-12.8 L397.6,-14.5 L387.4,-15.8 L377.2,-16.9 L366.9,-17.5 L356.6,-17.9 L346.3,-17.9 L336.1,-17.5 L325.8,-16.9 L315.6,-15.8 L305.4,-14.5 L295.2,-12.8 L285.1,-10.8 L275.1,-8.4 L265.2,-5.7 L255.3,-2.7 L245.6,0.6 L236.0,4.2 L226.5,8.2 L217.1,12.5 L207.9,17.1 L198.9,21.9 L190.0,27.1 L181.2,32.6 L172.7,38.3 L164.4,44.4 L156.2,50.7 L148.3,57.2 L140.6,64.1 L133.1,71.1 L125.9,78.5 L118.9,86.0 L112.1,93.8 L105.7,101.8 L99.4,110.0 L93.5,118.4 L87.8,127.0 L82.5,135.8 L77.4,144.7 L72.6,153.8 L68.1,163.1 L63.9,172.5 L60.0,182.1 L56.5,191.7 L53.2,201.5 L50.3,211.4 L47.7,221.4 L45.5,231.4 L43.6,241.5 L42.0,251.7 L40.7,261.9 L39.8,272.2 L39.2,282.5 L39.0,292.8 L39.1,303.1 L39.5,313.4 L40.3,323.6 L41.4,333.9 L42.8,344.1 L44.6,354.2 L46.7,364.3 L49.2,374.3 L51.9,384.2 L55.0,394.0 L58.4,403.8 L62.2,413.4 L66.2,422.8 L70.6,432.2 L75.2,441.3 L80.2,450.4 L85.5,459.2 L91.0,467.9 L96.8,476.4 L102.9,484.7 L109.3,492.8 L115.9,500.7"/><path d="M639.3,514.6 L646.1,505.2 L652.6,495.6 L658.7,485.8 L664.6,475.8 L670.1,465.6 L675.3,455.2 L680.2,444.6 L684.7,433.9 L689.0,423.1 L692.8,412.1 L696.3,401.1 L699.5,389.9 L702.3,378.6 L704.8,367.2 L706.8,355.8 L708.6,344.3 L709.9,332.7 L711.0,321.1 L711.6,309.5 L711.9,297.8 L711.8,286.2 L711.3,274.6 L710.5,263.0 L709.3,251.4 L707.7,239.9 L705.8,228.4 L703.5,217.0 L700.9,205.6 L697.9,194.4 L694.6,183.3 L690.9,172.2 L686.8,161.3 L682.5,150.6 L677.7,140.0 L672.7,129.5 L667.3,119.2 L661.6,109.1 L655.6,99.2 L649.3,89.5 L642.7,79.9 L635.8,70.6 L628.6,61.6 L621.1,52.8 L613.3,44.2 L605.3,35.8 L597.0,27.8 L588.5,20.0 L579.7,12.5 L570.7,5.2 L561.4,-1.7 L552.0,-8.3 L542.3,-14.6 L532.5,-20.6 L522.5,-26.3 L512.3,-31.7 L501.9,-36.7 L491.4,-41.4 L480.7,-45.7 L469.9,-49.7 L459.0,-53.4 L448.0,-56.7 L436.9,-59.6 L425.7,-62.2 L414.4,-64.4 L403.0,-66.3 L391.6,-67.7 L380.2,-68.9 L368.7,-69.6 L357.2,-70.0 L345.7,-70.0 L334.3,-69.6 L322.8,-68.9 L311.3,-67.7 L299.9,-66.3 L288.6,-64.4 L277.3,-62.2 L266.1,-59.6 L255.0,-56.7 L244.0,-53.4 L233.0,-49.7 L222.3,-45.7 L211.6,-41.4 L201.1,-36.7 L190.7,-31.7 L180.5,-26.3 L170.5,-20.6 L160.6,-14.6 L151.0,-8.3 L141.5,-1.7 L132.3,5.2 L123.3,12.5 L114.5,20.0 L106.0,27.8 L97.7,35.8 L89.7,44.2 L81.9,52.8 L74.4,61.6 L67.2,70.6 L60.3,79.9 L53.7,89.5 L47.3,99.2 L41.3,109.1 L35.6,119.2 L30.3,129.5 L25.2,140.0 L20.5,150.6 L16.1,161.3 L12.1,172.2 L8.4,183.3 L5.1,194.4 L2.1,205.6 L-0.6,217.0 L-2.9,228.4 L-4.8,239.9 L-6.3,251.4 L-7.5,263.0 L-8.3,274.6 L-8.8,286.2 L-8.9,297.8 L-8.6,309.5 L-8.0,321.1 L-7.0,332.7 L-5.6,344.3 L-3.9,355.8 L-1.8,367.2 L0.7,378.6 L3.5,389.9 L6.6,401.1 L10.2,412.1 L14.0,423.1 L18.2,433.9 L22.8,444.6 L27.6,455.2 L32.8,465.6 L38.4,475.8 L44.2,485.8 L50.4,495.6 L56.9,505.2 L63.6,514.6"/><path d="M696.8,514.9 L703.2,504.0 L709.3,492.9 L715.0,481.6 L720.4,470.1 L725.5,458.4 L730.2,446.6 L734.5,434.7 L738.5,422.6 L742.1,410.4 L745.4,398.1 L748.3,385.7 L750.8,373.2 L753.0,360.7 L754.7,348.0 L756.1,335.4 L757.2,322.7 L757.8,309.9 L758.0,297.2 L757.9,284.4 L757.4,271.7 L756.5,259.0 L755.3,246.3 L753.6,233.7 L751.6,221.1 L749.2,208.6 L746.4,196.1 L743.3,183.8 L739.8,171.6 L735.9,159.5 L731.7,147.5 L727.1,135.6 L722.2,123.9 L716.9,112.4 L711.3,101.0 L705.3,89.8 L699.0,78.8 L692.4,68.0 L685.5,57.4 L678.2,47.1 L670.7,36.9 L662.8,27.1 L654.7,17.4 L646.2,8.0 L637.5,-1.1 L628.5,-9.9 L619.3,-18.4 L609.8,-26.7 L600.1,-34.6 L590.1,-42.3 L580.0,-49.6 L569.6,-56.6 L559.0,-63.3 L548.2,-69.6 L537.2,-75.6 L526.0,-81.3 L514.7,-86.6 L503.2,-91.5 L491.6,-96.1 L479.9,-100.3 L468.0,-104.1 L456.1,-107.6 L444.0,-110.7 L431.8,-113.4 L419.6,-115.7 L407.3,-117.7 L394.9,-119.2 L382.6,-120.4 L370.1,-121.2 L357.7,-121.6 L345.3,-121.6 L332.8,-121.2 L320.4,-120.4 L308.0,-119.2 L295.7,-117.7 L283.4,-115.7 L271.1,-113.4 L259.0,-110.7 L246.9,-107.6 L234.9,-104.1 L223.1,-100.3 L211.3,-96.1 L199.7,-91.5 L188.3,-86.6 L176.9,-81.3 L165.8,-75.6 L154.8,-69.6 L144.0,-63.3 L133.4,-56.6 L123.0,-49.6 L112.8,-42.3 L102.9,-34.6 L93.1,-26.7 L83.7,-18.4 L74.4,-9.9 L65.4,-1.1 L56.7,8.0 L48.3,17.4 L40.2,27.1 L32.3,36.9 L24.8,47.1 L17.5,57.4 L10.6,68.0 L3.9,78.8 L-2.3,89.8 L-8.3,101.0 L-13.9,112.4 L-19.2,123.9 L-24.2,135.6 L-28.7,147.5 L-33.0,159.5 L-36.8,171.6 L-40.3,183.8 L-43.5,196.1 L-46.2,208.6 L-48.6,221.1 L-50.7,233.7 L-52.3,246.3 L-53.6,259.0 L-54.4,271.7 L-55.0,284.4 L-55.1,297.2 L-54.8,309.9 L-54.2,322.7 L-53.2,335.4 L-51.8,348.0 L-50.0,360.7 L-47.9,373.2 L-45.3,385.7 L-42.4,398.1 L-39.2,410.4 L-35.5,422.6 L-31.6,434.7 L-27.2,446.6 L-22.5,458.4 L-17.4,470.1 L-12.0,481.6 L-6.3,492.9 L-0.2,504.0 L6.2,514.9"/></g>
</defs>
<g clip-path="url(#ft)" fill="none" stroke="#cecece" stroke-width="1.15"><use href="#grid" y="0"/></g>
<g clip-path="url(#st)"><g filter="url(#fc)"><rect x="50" y="5" width="605" height="290" fill="rgb(128,128,128)"/><ellipse cx="230" cy="82" rx="22" ry="14" transform="rotate(0 230 82)" fill="rgb(143,143,143)"/><ellipse cx="295" cy="87" rx="15" ry="10" transform="rotate(0 295 87)" fill="rgb(141,141,141)"/><ellipse cx="235" cy="130" rx="22" ry="18" transform="rotate(0 235 130)" fill="rgb(136,136,136)"/><ellipse cx="239" cy="204" rx="22" ry="12" transform="rotate(20 239 204)" fill="rgb(141,141,141)"/><ellipse cx="122" cy="212" rx="24" ry="16" transform="rotate(40 122 212)" fill="rgb(146,146,146)"/><ellipse cx="173" cy="238" rx="26" ry="13" transform="rotate(22 173 238)" fill="rgb(146,146,146)"/><ellipse cx="362" cy="105" rx="14" ry="13" transform="rotate(0 362 105)" fill="rgb(141,141,141)"/><ellipse cx="442" cy="72" rx="30" ry="12" transform="rotate(-5 442 72)" fill="rgb(138,138,138)"/><ellipse cx="551" cy="220" rx="28" ry="18" transform="rotate(-40 551 220)" fill="rgb(138,138,138)"/><ellipse cx="459" cy="218" rx="10" ry="10" transform="rotate(0 459 218)" fill="rgb(141,141,141)"/><ellipse cx="412" cy="124" rx="20" ry="18" transform="rotate(0 412 124)" fill="rgb(136,136,136)"/><ellipse cx="180" cy="130" rx="25" ry="25" transform="rotate(0 180 130)" fill="rgb(110,110,110)"/><ellipse cx="156" cy="180" rx="20" ry="20" transform="rotate(0 156 180)" fill="rgb(118,118,118)"/><ellipse cx="191" cy="207" rx="18" ry="16" transform="rotate(0 191 207)" fill="rgb(118,118,118)"/><ellipse cx="290" cy="125" rx="18" ry="16" transform="rotate(0 290 125)" fill="rgb(120,120,120)"/><ellipse cx="370" cy="138" rx="20" ry="20" transform="rotate(0 370 138)" fill="rgb(115,115,115)"/><ellipse cx="494" cy="105" rx="28" ry="20" transform="rotate(0 494 105)" fill="rgb(115,115,115)"/><ellipse cx="514" cy="204" rx="25" ry="25" transform="rotate(0 514 204)" fill="rgb(108,108,108)"/><ellipse cx="444" cy="155" rx="20" ry="12" transform="rotate(0 444 155)" fill="rgb(115,115,115)"/><ellipse cx="584" cy="184" rx="9" ry="8" transform="rotate(0 584 184)" fill="rgb(204,204,204)"/></g>
<ellipse cx="584.5" cy="183.5" rx="3.0" ry="2.4" transform="rotate(-50 584.5 183.5)" fill="#4a1030" opacity="0.75" filter="url(#sb)"/>
<ellipse cx="587" cy="187.5" rx="1.8" ry="1.5" transform="rotate(0 587 187.5)" fill="#5a1535" opacity="0.6" filter="url(#sb)"/>
<ellipse cx="581" cy="181" rx="1.4" ry="1.1" transform="rotate(0 581 181)" fill="#5a1535" opacity="0.5" filter="url(#sb)"/>
<ellipse cx="511.6" cy="202.4" rx="3.2" ry="3.2" transform="rotate(0 511.6 202.4)" fill="#3c3a9a" opacity="0.6" filter="url(#sb)"/>
<ellipse cx="511.6" cy="202.4" rx="1.4" ry="1.4" transform="rotate(0 511.6 202.4)" fill="#ffffff" opacity="1.0" filter="url(#sb)"/>
</g>
<g clip-path="url(#st)" fill="none" stroke="#b4b4b4" stroke-width="1.15" opacity="0.5"><use href="#grid" y="0"/></g>
<path d="M99.1,223.2 L100.1,219.2 L101.2,215.3 L102.3,211.4 L103.5,207.6 L104.8,203.7 L106.2,199.9 L107.6,196.0 L109.1,192.2 L110.7,188.5 L112.3,184.7 L114.0,181.0 L115.8,177.3 L117.6,173.7 L119.6,170.0 L121.5,166.4 L123.6,162.9 L125.7,159.3 L127.9,155.8 L130.1,152.3 L132.4,148.9 L134.8,145.5 L137.2,142.1 L139.7,138.8 L142.2,135.5 L144.8,132.3 L147.5,129.1 L150.2,125.9 L153.0,122.8 L155.9,119.7 L158.8,116.7 L161.7,113.7 L164.7,110.8 L167.8,107.9 L170.9,105.1 L174.1,102.3 L177.3,99.5 L180.6,96.8 L183.9,94.2 L187.3,91.6 L190.7,89.1 L194.2,86.6 L197.7,84.2 L201.2,81.8 L204.8,79.5 L208.5,77.2 L212.1,75.0 L215.9,72.9 L219.6,70.8 L223.4,68.8 L227.3,66.8 L231.1,64.9 L235.0,63.0 L239.0,61.2 L242.9,59.5 L246.9,57.9 L251.0,56.3 L255.0,54.7 L259.1,53.2 L263.2,51.8 L267.4,50.5 L271.5,49.2 L275.7,48.0 L279.9,46.9 L284.2,45.8 L288.4,44.8 L292.7,43.8 L297.0,42.9 L301.3,42.1 L305.6,41.4 L309.9,40.7 L314.3,40.1 L318.6,39.5 L323.0,39.0 L327.3,38.6 L331.7,38.3 L336.1,38.0 L340.5,37.8 L344.9,37.7 L349.3,37.6 L353.7,37.6 L358.1,37.7 L362.4,37.8 L366.8,38.0 L371.2,38.3 L375.6,38.6 L380.0,39.0 L384.3,39.5 L388.7,40.1 L393.0,40.7 L397.3,41.4 L401.7,42.1 L406.0,42.9 L410.2,43.8 L414.5,44.8 L418.8,45.8 L423.0,46.9 L427.2,48.0 L431.4,49.2 L435.6,50.5 L439.7,51.8 L443.8,53.3 L447.9,54.7 L452.0,56.3 L456.0,57.9 L460.0,59.5 L464.0,61.3 L467.9,63.0 L471.8,64.9 L475.7,66.8 L479.5,68.8 L483.3,70.8 L487.1,72.9 L490.8,75.0 L494.5,77.2 L498.1,79.5 L501.7,81.8 L505.3,84.2 L508.8,86.6 L512.2,89.1 L515.6,91.6 L519.0,94.2 L522.3,96.8 L525.6,99.5 L528.8,102.3 L532.0,105.1 L535.1,107.9 L538.2,110.8 L541.2,113.7 L544.1,116.7 L547.0,119.8 L549.9,122.8 L552.7,125.9 L555.4,129.1 L558.1,132.3 L560.7,135.6 L563.2,138.8 L565.7,142.2 L568.2,145.5 L570.5,148.9 L572.8,152.4 L575.1,155.8 L577.2,159.3 L579.3,162.9 L581.4,166.5 L583.4,170.1 L585.3,173.7 L587.1,177.4 L588.9,181.0 L590.6,184.8 L592.2,188.5 L593.8,192.3 L595.3,196.1 L596.7,199.9 L598.1,203.7 L599.4,207.6 L600.6,211.5 L601.7,215.4 L602.8,219.3 L603.8,223.2 L603.8,223.2 L599.8,225.1 L595.8,226.9 L591.8,228.7 L587.7,230.5 L583.6,232.3 L579.6,234.0 L575.5,235.7 L571.4,237.4 L567.2,239.1 L563.1,240.7 L558.9,242.4 L554.7,244.0 L550.5,245.5 L546.3,247.1 L542.1,248.6 L537.9,250.1 L533.6,251.6 L529.4,253.1 L525.1,254.5 L520.8,255.9 L516.5,257.4 L512.2,258.7 L507.8,260.1 L503.5,261.5 L499.2,262.8 L494.8,264.1 L490.4,265.4 L486.0,266.7 L481.6,267.9 L481.6,267.9 L481.1,265.1 L480.5,262.3 L479.9,259.5 L479.1,256.7 L478.3,253.9 L477.5,251.1 L476.5,248.4 L475.5,245.7 L474.4,243.0 L473.2,240.3 L472.0,237.6 L470.7,235.0 L469.3,232.4 L467.9,229.9 L466.4,227.3 L464.8,224.9 L463.2,222.4 L461.5,220.0 L459.7,217.6 L457.9,215.2 L456.0,212.9 L454.1,210.7 L452.1,208.4 L450.0,206.3 L447.9,204.1 L445.7,202.0 L443.5,200.0 L441.2,198.0 L438.9,196.1 L436.5,194.2 L434.1,192.4 L431.6,190.6 L429.1,188.8 L426.6,187.2 L424.0,185.6 L421.3,184.0 L418.6,182.5 L415.9,181.1 L413.1,179.7 L410.3,178.3 L407.5,177.1 L404.7,175.9 L401.8,174.8 L398.8,173.7 L395.9,172.7 L392.9,171.7 L389.9,170.8 L386.9,170.0 L383.9,169.3 L380.8,168.6 L377.7,168.0 L374.6,167.4 L371.5,167.0 L368.4,166.5 L365.3,166.2 L362.2,165.9 L359.0,165.7 L355.9,165.6 L352.7,165.5 L349.6,165.5 L346.4,165.6 L343.3,165.7 L340.1,165.9 L337.0,166.2 L333.9,166.5 L330.8,166.9 L327.7,167.4 L324.6,167.9 L321.5,168.5 L318.4,169.2 L315.4,170.0 L312.4,170.8 L309.4,171.6 L306.4,172.6 L303.4,173.6 L300.5,174.6 L297.6,175.8 L294.7,177.0 L291.9,178.2 L289.1,179.5 L286.4,180.9 L283.6,182.4 L280.9,183.9 L278.3,185.4 L275.7,187.0 L273.1,188.7 L270.6,190.4 L268.1,192.2 L265.7,194.0 L263.3,195.9 L261.0,197.8 L258.7,199.8 L256.5,201.9 L254.3,203.9 L252.2,206.1 L250.1,208.2 L248.1,210.5 L246.2,212.7 L244.3,215.0 L242.4,217.4 L240.7,219.7 L239.0,222.2 L237.3,224.6 L235.8,227.1 L234.3,229.6 L232.8,232.2 L231.4,234.8 L230.1,237.4 L228.9,240.0 L227.7,242.7 L226.6,245.4 L225.6,248.1 L224.6,250.9 L223.7,253.6 L222.9,256.4 L222.2,259.2 L221.5,262.0 L220.9,264.8 L220.4,267.7 L220.4,267.7 L216.0,266.4 L211.7,265.2 L207.3,263.9 L203.0,262.6 L198.7,261.2 L194.4,259.9 L190.1,258.5 L185.8,257.1 L181.5,255.7 L177.3,254.3 L173.0,252.9 L168.8,251.4 L164.6,249.9 L160.4,248.4 L156.2,246.9 L152.0,245.4 L147.8,243.8 L143.7,242.2 L139.5,240.6 L135.4,239.0 L131.3,237.3 L127.2,235.6 L123.2,233.9 L119.1,232.2 L115.1,230.5 L111.1,228.7 L107.1,226.9 L103.1,225.0 L99.1,223.2 Z" fill="none" stroke="#d0d0d0" stroke-width="0.8"/>
<g stroke="#6a6a6a" stroke-width="0.9"><line x1="92.7" y1="23.0" x2="92.7" y2="24.9"/><line x1="178.2" y1="23.0" x2="178.2" y2="24.9"/><line x1="252.6" y1="23.0" x2="252.6" y2="24.9"/><line x1="319.4" y1="23.0" x2="319.4" y2="24.9"/><line x1="383.6" y1="23.0" x2="383.6" y2="24.9"/><line x1="450.3" y1="23.0" x2="450.3" y2="24.9"/><line x1="524.8" y1="23.0" x2="524.8" y2="24.9"/><line x1="610.3" y1="23.0" x2="610.3" y2="24.9"/><line x1="47.2" y1="99.4" x2="49.1" y2="99.4"/><line x1="47.2" y1="366.4" x2="49.1" y2="366.4"/></g>
<rect x="47.2" y="23.0" width="608.9" height="261.0" fill="none" stroke="#1c1c1c" stroke-width="1.45"/>
<text x="640.0" y="54.3" text-anchor="end" font-size="22.7">CMB/kSZ</text>
<rect x="660.2" y="23.0" width="16.0" height="261.0" fill="url(#cb)" stroke="#1c1c1c" stroke-width="1.2"/>
<line x1="656.1" y1="23.0" x2="676.2" y2="23.0" stroke="#1c1c1c" stroke-width="1.2"/>
<line x1="676.2" y1="23.00" x2="680.0" y2="23.00" stroke="#1c1c1c" stroke-width="1.2"/>
<line x1="656.1" y1="23.00" x2="660.2" y2="23.00" stroke="#1c1c1c" stroke-width="1.2"/>
<text x="683.3" y="27.00" font-size="11.4">400</text>
<line x1="676.2" y1="55.62" x2="680.0" y2="55.62" stroke="#1c1c1c" stroke-width="1.2"/>
<line x1="656.1" y1="55.62" x2="660.2" y2="55.62" stroke="#1c1c1c" stroke-width="1.2"/>
<text x="683.3" y="59.62" font-size="11.4">300</text>
<line x1="676.2" y1="88.25" x2="680.0" y2="88.25" stroke="#1c1c1c" stroke-width="1.2"/>
<line x1="656.1" y1="88.25" x2="660.2" y2="88.25" stroke="#1c1c1c" stroke-width="1.2"/>
<text x="683.3" y="92.25" font-size="11.4">200</text>
<line x1="676.2" y1="120.88" x2="680.0" y2="120.88" stroke="#1c1c1c" stroke-width="1.2"/>
<line x1="656.1" y1="120.88" x2="660.2" y2="120.88" stroke="#1c1c1c" stroke-width="1.2"/>
<text x="683.3" y="124.88" font-size="11.4">100</text>
<line x1="676.2" y1="153.50" x2="680.0" y2="153.50" stroke="#1c1c1c" stroke-width="1.2"/>
<line x1="656.1" y1="153.50" x2="660.2" y2="153.50" stroke="#1c1c1c" stroke-width="1.2"/>
<text x="683.3" y="157.50" font-size="11.4">0</text>
<line x1="676.2" y1="186.12" x2="680.0" y2="186.12" stroke="#1c1c1c" stroke-width="1.2"/>
<line x1="656.1" y1="186.12" x2="660.2" y2="186.12" stroke="#1c1c1c" stroke-width="1.2"/>
<text x="683.3" y="190.12" font-size="11.4">−100</text>
<line x1="676.2" y1="218.75" x2="680.0" y2="218.75" stroke="#1c1c1c" stroke-width="1.2"/>
<line x1="656.1" y1="218.75" x2="660.2" y2="218.75" stroke="#1c1c1c" stroke-width="1.2"/>
<text x="683.3" y="222.75" font-size="11.4">−200</text>
<line x1="676.2" y1="251.38" x2="680.0" y2="251.38" stroke="#1c1c1c" stroke-width="1.2"/>
<line x1="656.1" y1="251.38" x2="660.2" y2="251.38" stroke="#1c1c1c" stroke-width="1.2"/>
<text x="683.3" y="255.38" font-size="11.4">−300</text>
<line x1="676.2" y1="284.00" x2="680.0" y2="284.00" stroke="#1c1c1c" stroke-width="1.2"/>
<line x1="656.1" y1="284.00" x2="660.2" y2="284.00" stroke="#1c1c1c" stroke-width="1.2"/>
<text x="683.3" y="288.00" font-size="11.4">−400</text>
<text x="39.5" y="102.5" text-anchor="end" font-size="11.7">-20°</text>
<text x="39.5" y="235.8" text-anchor="end" font-size="11.7">-30°</text>
<text transform="translate(10.2 153.5) rotate(-90)" text-anchor="middle" font-size="13.65">Declination (J2000)</text>
<g clip-path="url(#fb)" fill="none" stroke="#cecece" stroke-width="1.15"><use href="#grid" y="279.8"/></g>
<g clip-path="url(#sb)"><g filter="url(#fy)"><rect x="50" y="284.8" width="605" height="290" fill="rgb(128,128,128)"/><ellipse cx="118" cy="500" rx="22" ry="10" transform="rotate(25 118 500)" fill="rgb(72,72,72)"/><ellipse cx="150" cy="516" rx="14" ry="7" transform="rotate(22 150 516)" fill="rgb(97,97,97)"/><ellipse cx="186" cy="530" rx="34" ry="8" transform="rotate(22 186 530)" fill="rgb(105,105,105)"/><ellipse cx="283" cy="448" rx="7" ry="17" transform="rotate(30 283 448)" fill="rgb(105,105,105)"/><ellipse cx="540" cy="505" rx="55" ry="28" transform="rotate(-25 540 505)" fill="rgb(110,110,110)"/><ellipse cx="565" cy="440" rx="35" ry="35" transform="rotate(0 565 440)" fill="rgb(115,115,115)"/><ellipse cx="188" cy="428" rx="52" ry="16" transform="rotate(-30 188 428)" fill="rgb(139,139,139)"/><ellipse cx="160" cy="400" rx="30" ry="12" transform="rotate(-45 160 400)" fill="rgb(136,136,136)"/><ellipse cx="170" cy="490" rx="50" ry="10" transform="rotate(25 170 490)" fill="rgb(118,118,118)"/><ellipse cx="150" cy="340" rx="25" ry="14" transform="rotate(-45 150 340)" fill="rgb(120,120,120)"/><ellipse cx="340" cy="340" rx="25" ry="15" transform="rotate(0 340 340)" fill="rgb(120,120,120)"/><ellipse cx="300" cy="390" rx="30" ry="15" transform="rotate(0 300 390)" fill="rgb(133,133,133)"/><ellipse cx="420" cy="350" rx="40" ry="15" transform="rotate(10 420 350)" fill="rgb(132,132,132)"/><ellipse cx="490" cy="390" rx="90" ry="45" transform="rotate(35 490 390)" fill="rgb(120,120,120)"/><ellipse cx="430" cy="345" rx="50" ry="18" transform="rotate(15 430 345)" fill="rgb(123,123,123)"/><ellipse cx="560" cy="390" rx="30" ry="30" transform="rotate(0 560 390)" fill="rgb(123,123,123)"/></g>
<ellipse cx="253.3" cy="412.1" rx="4" ry="4" transform="rotate(0 253.3 412.1)" fill="#a84850" opacity="0.25" filter="url(#sb)"/>
<ellipse cx="253.3" cy="412.1" rx="2.0" ry="2.0" transform="rotate(0 253.3 412.1)" fill="#45102a" opacity="0.95" filter="url(#sb)"/>
<ellipse cx="267" cy="417.3" rx="1.2" ry="1.2" transform="rotate(0 267 417.3)" fill="#45102a" opacity="0.8" filter="url(#sb)"/>
<ellipse cx="170.8" cy="423.7" rx="1.3" ry="1.3" transform="rotate(0 170.8 423.7)" fill="#45102a" opacity="0.8" filter="url(#sb)"/>
<ellipse cx="248" cy="465.4" rx="4.5" ry="4.5" transform="rotate(0 248 465.4)" fill="#a84850" opacity="0.25" filter="url(#sb)"/>
<ellipse cx="248" cy="465.4" rx="2.5" ry="2.4" transform="rotate(0 248 465.4)" fill="#45102a" opacity="0.95" filter="url(#sb)"/>
<ellipse cx="158.6" cy="465.1" rx="1.5" ry="1.5" transform="rotate(0 158.6 465.1)" fill="#45102a" opacity="0.9" filter="url(#sb)"/>
<ellipse cx="201.4" cy="462.2" rx="1.1" ry="1.1" transform="rotate(0 201.4 462.2)" fill="#45102a" opacity="0.7" filter="url(#sb)"/>
<ellipse cx="175" cy="507.5" rx="6" ry="4" transform="rotate(25 175 507.5)" fill="#a84850" opacity="0.25" filter="url(#sb)"/>
<ellipse cx="173.5" cy="506.5" rx="2.6" ry="1.8" transform="rotate(25 173.5 506.5)" fill="#45102a" opacity="0.95" filter="url(#sb)"/>
<ellipse cx="177" cy="508.5" rx="2.0" ry="1.4" transform="rotate(25 177 508.5)" fill="#45102a" opacity="0.9" filter="url(#sb)"/>
<ellipse cx="179.5" cy="514" rx="1.3" ry="1.2" transform="rotate(0 179.5 514)" fill="#45102a" opacity="0.85" filter="url(#sb)"/>
<ellipse cx="169.5" cy="509" rx="0.9" ry="0.9" transform="rotate(0 169.5 509)" fill="#45102a" opacity="0.8" filter="url(#sb)"/>
<ellipse cx="194" cy="533" rx="7" ry="3" transform="rotate(55 194 533)" fill="#a84850" opacity="0.25" filter="url(#sb)"/>
<ellipse cx="190.5" cy="529.5" rx="1.6" ry="1.3" transform="rotate(0 190.5 529.5)" fill="#45102a" opacity="0.9" filter="url(#sb)"/>
<ellipse cx="194" cy="534" rx="1.4" ry="1.2" transform="rotate(0 194 534)" fill="#45102a" opacity="0.85" filter="url(#sb)"/>
<ellipse cx="198.5" cy="539.5" rx="2.0" ry="1.6" transform="rotate(0 198.5 539.5)" fill="#45102a" opacity="0.9" filter="url(#sb)"/>
<ellipse cx="521" cy="527.2" rx="4.5" ry="4.5" transform="rotate(0 521 527.2)" fill="#a84850" opacity="0.25" filter="url(#sb)"/>
<ellipse cx="521" cy="527.2" rx="2.4" ry="2.4" transform="rotate(0 521 527.2)" fill="#45102a" opacity="0.95" filter="url(#sb)"/>
<ellipse cx="472.3" cy="421.4" rx="1.2" ry="1.2" transform="rotate(0 472.3 421.4)" fill="#45102a" opacity="0.8" filter="url(#sb)"/>
<ellipse cx="483.1" cy="467.5" rx="1.7" ry="1.7" transform="rotate(0 483.1 467.5)" fill="#45102a" opacity="0.9" filter="url(#sb)"/>
<ellipse cx="489" cy="471" rx="1.2" ry="1.2" transform="rotate(0 489 471)" fill="#45102a" opacity="0.8" filter="url(#sb)"/>
<ellipse cx="472.3" cy="473.3" rx="1.4" ry="1.4" transform="rotate(0 472.3 473.3)" fill="#45102a" opacity="0.8" filter="url(#sb)"/>
<ellipse cx="435" cy="471" rx="1.0" ry="1.0" transform="rotate(0 435 471)" fill="#45102a" opacity="0.7" filter="url(#sb)"/>
<ellipse cx="493.3" cy="383" rx="1.0" ry="1.0" transform="rotate(0 493.3 383)" fill="#45102a" opacity="0.7" filter="url(#sb)"/>
<ellipse cx="251.4" cy="357.2" rx="1.4" ry="1.4" transform="rotate(0 251.4 357.2)" fill="#45102a" opacity="0.85" filter="url(#sb)"/>
</g>
<g clip-path="url(#sb)" fill="none" stroke="#b4b4b4" stroke-width="1.15" opacity="0.5"><use href="#grid" y="279.8"/></g>
<path d="M99.1,503.0 L100.1,499.0 L101.2,495.1 L102.3,491.2 L103.5,487.4 L104.8,483.5 L106.2,479.7 L107.6,475.8 L109.1,472.0 L110.7,468.3 L112.3,464.5 L114.0,460.8 L115.8,457.1 L117.6,453.5 L119.6,449.8 L121.5,446.2 L123.6,442.7 L125.7,439.1 L127.9,435.6 L130.1,432.1 L132.4,428.7 L134.8,425.3 L137.2,421.9 L139.7,418.6 L142.2,415.3 L144.8,412.1 L147.5,408.9 L150.2,405.7 L153.0,402.6 L155.9,399.5 L158.8,396.5 L161.7,393.5 L164.7,390.6 L167.8,387.7 L170.9,384.9 L174.1,382.1 L177.3,379.3 L180.6,376.6 L183.9,374.0 L187.3,371.4 L190.7,368.9 L194.2,366.4 L197.7,364.0 L201.2,361.6 L204.8,359.3 L208.5,357.0 L212.1,354.8 L215.9,352.7 L219.6,350.6 L223.4,348.6 L227.3,346.6 L231.1,344.7 L235.0,342.8 L239.0,341.0 L242.9,339.3 L246.9,337.7 L251.0,336.1 L255.0,334.5 L259.1,333.0 L263.2,331.6 L267.4,330.3 L271.5,329.0 L275.7,327.8 L279.9,326.7 L284.2,325.6 L288.4,324.6 L292.7,323.6 L297.0,322.7 L301.3,321.9 L305.6,321.2 L309.9,320.5 L314.3,319.9 L318.6,319.3 L323.0,318.8 L327.3,318.4 L331.7,318.1 L336.1,317.8 L340.5,317.6 L344.9,317.5 L349.3,317.4 L353.7,317.4 L358.1,317.5 L362.4,317.6 L366.8,317.8 L371.2,318.1 L375.6,318.4 L380.0,318.8 L384.3,319.3 L388.7,319.9 L393.0,320.5 L397.3,321.2 L401.7,321.9 L406.0,322.7 L410.2,323.6 L414.5,324.6 L418.8,325.6 L423.0,326.7 L427.2,327.8 L431.4,329.0 L435.6,330.3 L439.7,331.6 L443.8,333.1 L447.9,334.5 L452.0,336.1 L456.0,337.7 L460.0,339.3 L464.0,341.1 L467.9,342.8 L471.8,344.7 L475.7,346.6 L479.5,348.6 L483.3,350.6 L487.1,352.7 L490.8,354.8 L494.5,357.0 L498.1,359.3 L501.7,361.6 L505.3,364.0 L508.8,366.4 L512.2,368.9 L515.6,371.4 L519.0,374.0 L522.3,376.6 L525.6,379.3 L528.8,382.1 L532.0,384.9 L535.1,387.7 L538.2,390.6 L541.2,393.5 L544.1,396.5 L547.0,399.6 L549.9,402.6 L552.7,405.7 L555.4,408.9 L558.1,412.1 L560.7,415.4 L563.2,418.6 L565.7,422.0 L568.2,425.3 L570.5,428.7 L572.8,432.2 L575.1,435.6 L577.2,439.1 L579.3,442.7 L581.4,446.3 L583.4,449.9 L585.3,453.5 L587.1,457.2 L588.9,460.8 L590.6,464.6 L592.2,468.3 L593.8,472.1 L595.3,475.9 L596.7,479.7 L598.1,483.5 L599.4,487.4 L600.6,491.3 L601.7,495.2 L602.8,499.1 L603.8,503.0 L603.8,503.0 L599.8,504.9 L595.8,506.7 L591.8,508.5 L587.7,510.3 L583.6,512.1 L579.6,513.8 L575.5,515.5 L571.4,517.2 L567.2,518.9 L563.1,520.5 L558.9,522.2 L554.7,523.8 L550.5,525.3 L546.3,526.9 L542.1,528.4 L537.9,529.9 L533.6,531.4 L529.4,532.9 L525.1,534.3 L520.8,535.7 L516.5,537.2 L512.2,538.5 L507.8,539.9 L503.5,541.3 L499.2,542.6 L494.8,543.9 L490.4,545.2 L486.0,546.5 L481.6,547.7 L481.6,547.7 L481.1,544.9 L480.5,542.1 L479.9,539.3 L479.1,536.5 L478.3,533.7 L477.5,530.9 L476.5,528.2 L475.5,525.5 L474.4,522.8 L473.2,520.1 L472.0,517.4 L470.7,514.8 L469.3,512.2 L467.9,509.7 L466.4,507.1 L464.8,504.7 L463.2,502.2 L461.5,499.8 L459.7,497.4 L457.9,495.0 L456.0,492.7 L454.1,490.5 L452.1,488.2 L450.0,486.1 L447.9,483.9 L445.7,481.8 L443.5,479.8 L441.2,477.8 L438.9,475.9 L436.5,474.0 L434.1,472.2 L431.6,470.4 L429.1,468.6 L426.6,467.0 L424.0,465.4 L421.3,463.8 L418.6,462.3 L415.9,460.9 L413.1,459.5 L410.3,458.1 L407.5,456.9 L404.7,455.7 L401.8,454.6 L398.8,453.5 L395.9,452.5 L392.9,451.5 L389.9,450.6 L386.9,449.8 L383.9,449.1 L380.8,448.4 L377.7,447.8 L374.6,447.2 L371.5,446.8 L368.4,446.3 L365.3,446.0 L362.2,445.7 L359.0,445.5 L355.9,445.4 L352.7,445.3 L349.6,445.3 L346.4,445.4 L343.3,445.5 L340.1,445.7 L337.0,446.0 L333.9,446.3 L330.8,446.7 L327.7,447.2 L324.6,447.7 L321.5,448.3 L318.4,449.0 L315.4,449.8 L312.4,450.6 L309.4,451.4 L306.4,452.4 L303.4,453.4 L300.5,454.4 L297.6,455.6 L294.7,456.8 L291.9,458.0 L289.1,459.3 L286.4,460.7 L283.6,462.2 L280.9,463.7 L278.3,465.2 L275.7,466.8 L273.1,468.5 L270.6,470.2 L268.1,472.0 L265.7,473.8 L263.3,475.7 L261.0,477.6 L258.7,479.6 L256.5,481.7 L254.3,483.7 L252.2,485.9 L250.1,488.0 L248.1,490.3 L246.2,492.5 L244.3,494.8 L242.4,497.2 L240.7,499.5 L239.0,502.0 L237.3,504.4 L235.8,506.9 L234.3,509.4 L232.8,512.0 L231.4,514.6 L230.1,517.2 L228.9,519.8 L227.7,522.5 L226.6,525.2 L225.6,527.9 L224.6,530.7 L223.7,533.4 L222.9,536.2 L222.2,539.0 L221.5,541.8 L220.9,544.6 L220.4,547.5 L220.4,547.5 L216.0,546.2 L211.7,545.0 L207.3,543.7 L203.0,542.4 L198.7,541.0 L194.4,539.7 L190.1,538.3 L185.8,536.9 L181.5,535.5 L177.3,534.1 L173.0,532.7 L168.8,531.2 L164.6,529.7 L160.4,528.2 L156.2,526.7 L152.0,525.2 L147.8,523.6 L143.7,522.0 L139.5,520.4 L135.4,518.8 L131.3,517.1 L127.2,515.4 L123.2,513.7 L119.1,512.0 L115.1,510.3 L111.1,508.5 L107.1,506.7 L103.1,504.8 L99.1,503.0 Z" fill="none" stroke="#d0d0d0" stroke-width="0.8"/>
<g stroke="#6a6a6a" stroke-width="0.9"><line x1="92.7" y1="302.8" x2="92.7" y2="304.7"/><line x1="178.2" y1="302.8" x2="178.2" y2="304.7"/><line x1="252.6" y1="302.8" x2="252.6" y2="304.7"/><line x1="319.4" y1="302.8" x2="319.4" y2="304.7"/><line x1="383.6" y1="302.8" x2="383.6" y2="304.7"/><line x1="450.3" y1="302.8" x2="450.3" y2="304.7"/><line x1="524.8" y1="302.8" x2="524.8" y2="304.7"/><line x1="610.3" y1="302.8" x2="610.3" y2="304.7"/><line x1="47.2" y1="379.2" x2="49.1" y2="379.2"/><line x1="47.2" y1="646.2" x2="49.1" y2="646.2"/></g>
<rect x="47.2" y="302.8" width="608.9" height="261.0" fill="none" stroke="#1c1c1c" stroke-width="1.45"/>
<text x="640.0" y="334.1" text-anchor="end" font-size="22.7">Compton-y</text>
<rect x="660.2" y="302.8" width="16.0" height="261.0" fill="url(#cb)" stroke="#1c1c1c" stroke-width="1.2"/>
<line x1="656.1" y1="302.8" x2="676.2" y2="302.8" stroke="#1c1c1c" stroke-width="1.2"/>
<line x1="676.2" y1="302.80" x2="680.0" y2="302.80" stroke="#1c1c1c" stroke-width="1.2"/>
<line x1="656.1" y1="302.80" x2="660.2" y2="302.80" stroke="#1c1c1c" stroke-width="1.2"/>
<text x="683.3" y="306.80" font-size="11.4">8</text>
<line x1="676.2" y1="335.43" x2="680.0" y2="335.43" stroke="#1c1c1c" stroke-width="1.2"/>
<line x1="656.1" y1="335.43" x2="660.2" y2="335.43" stroke="#1c1c1c" stroke-width="1.2"/>
<text x="683.3" y="339.43" font-size="11.4">6</text>
<line x1="676.2" y1="368.05" x2="680.0" y2="368.05" stroke="#1c1c1c" stroke-width="1.2"/>
<line x1="656.1" y1="368.05" x2="660.2" y2="368.05" stroke="#1c1c1c" stroke-width="1.2"/>
<text x="683.3" y="372.05" font-size="11.4">4</text>
<line x1="676.2" y1="400.68" x2="680.0" y2="400.68" stroke="#1c1c1c" stroke-width="1.2"/>
<line x1="656.1" y1="400.68" x2="660.2" y2="400.68" stroke="#1c1c1c" stroke-width="1.2"/>
<text x="683.3" y="404.68" font-size="11.4">2</text>
<line x1="676.2" y1="433.30" x2="680.0" y2="433.30" stroke="#1c1c1c" stroke-width="1.2"/>
<line x1="656.1" y1="433.30" x2="660.2" y2="433.30" stroke="#1c1c1c" stroke-width="1.2"/>
<text x="683.3" y="437.30" font-size="11.4">0</text>
<line x1="676.2" y1="465.93" x2="680.0" y2="465.93" stroke="#1c1c1c" stroke-width="1.2"/>
<line x1="656.1" y1="465.93" x2="660.2" y2="465.93" stroke="#1c1c1c" stroke-width="1.2"/>
<text x="683.3" y="469.93" font-size="11.4">−2</text>
<line x1="676.2" y1="498.55" x2="680.0" y2="498.55" stroke="#1c1c1c" stroke-width="1.2"/>
<line x1="656.1" y1="498.55" x2="660.2" y2="498.55" stroke="#1c1c1c" stroke-width="1.2"/>
<text x="683.3" y="502.55" font-size="11.4">−4</text>
<line x1="676.2" y1="531.17" x2="680.0" y2="531.17" stroke="#1c1c1c" stroke-width="1.2"/>
<line x1="656.1" y1="531.17" x2="660.2" y2="531.17" stroke="#1c1c1c" stroke-width="1.2"/>
<text x="683.3" y="535.17" font-size="11.4">−6</text>
<line x1="676.2" y1="563.80" x2="680.0" y2="563.80" stroke="#1c1c1c" stroke-width="1.2"/>
<line x1="656.1" y1="563.80" x2="660.2" y2="563.80" stroke="#1c1c1c" stroke-width="1.2"/>
<text x="683.3" y="567.80" font-size="11.4">−8</text>
<text x="39.5" y="382.3" text-anchor="end" font-size="11.7">-20°</text>
<text x="39.5" y="515.6" text-anchor="end" font-size="11.7">-30°</text>
<text transform="translate(10.2 433.3) rotate(-90)" text-anchor="middle" font-size="13.65">Declination (J2000)</text>
<text x="91.6" y="12.6" text-anchor="middle" font-size="11.7">5<tspan dy="-7" font-size="8.5">h</tspan></text>
<text x="178.0" y="12.6" text-anchor="middle" font-size="11.7">4<tspan dy="-7" font-size="8.5">h</tspan></text>
<text x="252.2" y="12.6" text-anchor="middle" font-size="11.7">3<tspan dy="-7" font-size="8.5">h</tspan></text>
<text x="318.7" y="12.6" text-anchor="middle" font-size="11.7">2<tspan dy="-7" font-size="8.5">h</tspan></text>
<text x="383.2" y="12.6" text-anchor="middle" font-size="11.7">1<tspan dy="-7" font-size="8.5">h</tspan></text>
<text x="449.2" y="12.6" text-anchor="middle" font-size="11.7">0<tspan dy="-7" font-size="8.5">h</tspan></text>
<text x="523.3" y="12.6" text-anchor="middle" font-size="11.7">23<tspan dy="-7" font-size="8.5">h</tspan></text>
<text x="610.0" y="12.6" text-anchor="middle" font-size="11.7">22<tspan dy="-7" font-size="8.5">h</tspan></text>
<text x="351.7" y="579.6" text-anchor="middle" font-size="13.65">Right Ascension (J2000)</text>
<g transform="translate(720.7 169.9) rotate(-90)"><text x="0.2" y="0" font-size="11.2" font-style="italic">μ</text><text class="s" x="6.9" y="0" font-size="11">K</text><text class="s" x="15.0" y="2.4" font-size="7.7">CMB</text></g>
<g transform="translate(709.9 453.4) rotate(-90)"><text class="s" x="0" y="0" font-size="10.5">y</text><text class="s" x="11.0" y="0.6" font-size="12.2">×</text><text class="s" transform="translate(20.6 0) scale(1.1 1)" font-size="10">10</text><text class="s" transform="translate(34.2 -4.4) scale(1.05 1)" font-size="8.2">6</text></g>
</svg></body></html>
